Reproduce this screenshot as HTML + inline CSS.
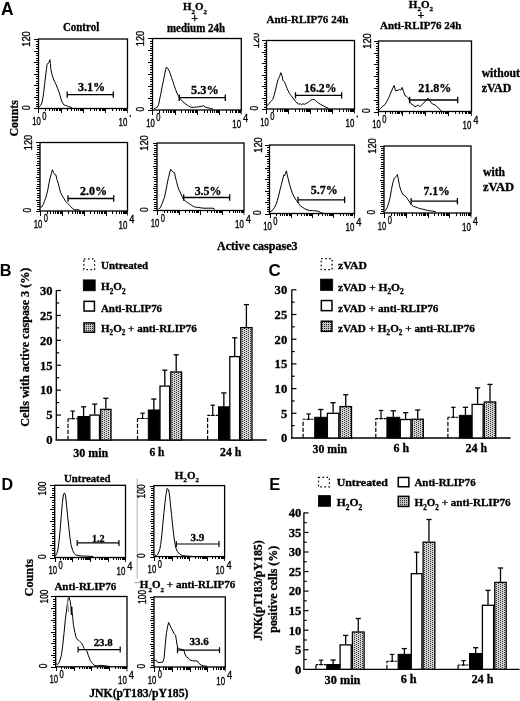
<!DOCTYPE html>
<html><head><meta charset="utf-8"><title>Figure</title>
<style>
html,body{margin:0;padding:0;background:#fff;width:520px;height:701px;overflow:hidden;}
svg{display:block;font-family:"Liberation Serif", serif;filter:grayscale(1);}
</style></head>
<body>
<svg width="520" height="701" viewBox="0 0 520 701">
<defs>
<pattern id="dots" x="0" y="0" width="4" height="2" patternUnits="userSpaceOnUse">
<rect x="0" y="0" width="4" height="2" fill="#d2d2d2"/>
<rect x="0" y="0" width="1" height="1" fill="#333"/>
<rect x="2" y="1" width="1" height="1" fill="#333"/>
</pattern>
<pattern id="dots2" x="0" y="0" width="2" height="2" patternUnits="userSpaceOnUse">
<rect x="0" y="0" width="2" height="2" fill="#c4c4c4"/>
<rect x="0" y="0" width="1" height="1" fill="#2a2a2a"/>
</pattern>
</defs>
<rect x="0" y="0" width="520" height="701" fill="#fff"/>
<text x="0.9" y="14.8" font-size="17.6" font-family='"Liberation Sans", sans-serif' font-weight="bold" textLength="12.6" lengthAdjust="spacingAndGlyphs" >A</text>
<rect x="38.5" y="39" width="89" height="69.5" fill="none" stroke="#000" stroke-width="1.3" />
<line x1="34.1" y1="108.5" x2="38.5" y2="108.5" stroke="#000" stroke-width="1" shape-rendering="crispEdges"/>
<line x1="35.9" y1="106.5" x2="38.5" y2="106.5" stroke="#000" stroke-width="1" shape-rendering="crispEdges"/>
<line x1="35.9" y1="104.5" x2="38.5" y2="104.5" stroke="#000" stroke-width="1" shape-rendering="crispEdges"/>
<line x1="35.9" y1="102.5" x2="38.5" y2="102.5" stroke="#000" stroke-width="1" shape-rendering="crispEdges"/>
<line x1="35.9" y1="99.5" x2="38.5" y2="99.5" stroke="#000" stroke-width="1" shape-rendering="crispEdges"/>
<line x1="34.1" y1="97.5" x2="38.5" y2="97.5" stroke="#000" stroke-width="1" shape-rendering="crispEdges"/>
<line x1="35.9" y1="95.5" x2="38.5" y2="95.5" stroke="#000" stroke-width="1" shape-rendering="crispEdges"/>
<line x1="35.9" y1="92.5" x2="38.5" y2="92.5" stroke="#000" stroke-width="1" shape-rendering="crispEdges"/>
<line x1="35.9" y1="90.5" x2="38.5" y2="90.5" stroke="#000" stroke-width="1" shape-rendering="crispEdges"/>
<line x1="35.9" y1="88.5" x2="38.5" y2="88.5" stroke="#000" stroke-width="1" shape-rendering="crispEdges"/>
<line x1="34.1" y1="85.5" x2="38.5" y2="85.5" stroke="#000" stroke-width="1" shape-rendering="crispEdges"/>
<line x1="35.9" y1="83.5" x2="38.5" y2="83.5" stroke="#000" stroke-width="1" shape-rendering="crispEdges"/>
<line x1="35.9" y1="81.5" x2="38.5" y2="81.5" stroke="#000" stroke-width="1" shape-rendering="crispEdges"/>
<line x1="35.9" y1="78.5" x2="38.5" y2="78.5" stroke="#000" stroke-width="1" shape-rendering="crispEdges"/>
<line x1="35.9" y1="76.5" x2="38.5" y2="76.5" stroke="#000" stroke-width="1" shape-rendering="crispEdges"/>
<line x1="34.1" y1="74.5" x2="38.5" y2="74.5" stroke="#000" stroke-width="1" shape-rendering="crispEdges"/>
<line x1="35.9" y1="71.5" x2="38.5" y2="71.5" stroke="#000" stroke-width="1" shape-rendering="crispEdges"/>
<line x1="35.9" y1="69.5" x2="38.5" y2="69.5" stroke="#000" stroke-width="1" shape-rendering="crispEdges"/>
<line x1="35.9" y1="67.5" x2="38.5" y2="67.5" stroke="#000" stroke-width="1" shape-rendering="crispEdges"/>
<line x1="35.9" y1="64.5" x2="38.5" y2="64.5" stroke="#000" stroke-width="1" shape-rendering="crispEdges"/>
<line x1="34.1" y1="62.5" x2="38.5" y2="62.5" stroke="#000" stroke-width="1" shape-rendering="crispEdges"/>
<line x1="35.9" y1="60.5" x2="38.5" y2="60.5" stroke="#000" stroke-width="1" shape-rendering="crispEdges"/>
<line x1="35.9" y1="58.5" x2="38.5" y2="58.5" stroke="#000" stroke-width="1" shape-rendering="crispEdges"/>
<line x1="35.9" y1="55.5" x2="38.5" y2="55.5" stroke="#000" stroke-width="1" shape-rendering="crispEdges"/>
<line x1="35.9" y1="53.5" x2="38.5" y2="53.5" stroke="#000" stroke-width="1" shape-rendering="crispEdges"/>
<line x1="34.1" y1="51.5" x2="38.5" y2="51.5" stroke="#000" stroke-width="1" shape-rendering="crispEdges"/>
<line x1="35.9" y1="48.5" x2="38.5" y2="48.5" stroke="#000" stroke-width="1" shape-rendering="crispEdges"/>
<line x1="35.9" y1="46.5" x2="38.5" y2="46.5" stroke="#000" stroke-width="1" shape-rendering="crispEdges"/>
<line x1="35.9" y1="44.5" x2="38.5" y2="44.5" stroke="#000" stroke-width="1" shape-rendering="crispEdges"/>
<line x1="35.9" y1="41.5" x2="38.5" y2="41.5" stroke="#000" stroke-width="1" shape-rendering="crispEdges"/>
<line x1="34.1" y1="39.5" x2="38.5" y2="39.5" stroke="#000" stroke-width="1" shape-rendering="crispEdges"/>
<line x1="38.5" y1="108.5" x2="38.5" y2="113.1" stroke="#000" stroke-width="1" shape-rendering="crispEdges"/>
<line x1="45.5" y1="108.5" x2="45.5" y2="111.1" stroke="#000" stroke-width="1" shape-rendering="crispEdges"/>
<line x1="49.5" y1="108.5" x2="49.5" y2="111.1" stroke="#000" stroke-width="1" shape-rendering="crispEdges"/>
<line x1="52.5" y1="108.5" x2="52.5" y2="111.1" stroke="#000" stroke-width="1" shape-rendering="crispEdges"/>
<line x1="54.5" y1="108.5" x2="54.5" y2="111.1" stroke="#000" stroke-width="1" shape-rendering="crispEdges"/>
<line x1="56.5" y1="108.5" x2="56.5" y2="111.1" stroke="#000" stroke-width="1" shape-rendering="crispEdges"/>
<line x1="57.5" y1="108.5" x2="57.5" y2="111.1" stroke="#000" stroke-width="1" shape-rendering="crispEdges"/>
<line x1="59.5" y1="108.5" x2="59.5" y2="111.1" stroke="#000" stroke-width="1" shape-rendering="crispEdges"/>
<line x1="60.5" y1="108.5" x2="60.5" y2="111.1" stroke="#000" stroke-width="1" shape-rendering="crispEdges"/>
<line x1="61.5" y1="108.5" x2="61.5" y2="113.1" stroke="#000" stroke-width="1" shape-rendering="crispEdges"/>
<line x1="67.5" y1="108.5" x2="67.5" y2="111.1" stroke="#000" stroke-width="1" shape-rendering="crispEdges"/>
<line x1="71.5" y1="108.5" x2="71.5" y2="111.1" stroke="#000" stroke-width="1" shape-rendering="crispEdges"/>
<line x1="74.5" y1="108.5" x2="74.5" y2="111.1" stroke="#000" stroke-width="1" shape-rendering="crispEdges"/>
<line x1="76.5" y1="108.5" x2="76.5" y2="111.1" stroke="#000" stroke-width="1" shape-rendering="crispEdges"/>
<line x1="78.5" y1="108.5" x2="78.5" y2="111.1" stroke="#000" stroke-width="1" shape-rendering="crispEdges"/>
<line x1="80.5" y1="108.5" x2="80.5" y2="111.1" stroke="#000" stroke-width="1" shape-rendering="crispEdges"/>
<line x1="81.5" y1="108.5" x2="81.5" y2="111.1" stroke="#000" stroke-width="1" shape-rendering="crispEdges"/>
<line x1="82.5" y1="108.5" x2="82.5" y2="111.1" stroke="#000" stroke-width="1" shape-rendering="crispEdges"/>
<line x1="83.5" y1="108.5" x2="83.5" y2="113.1" stroke="#000" stroke-width="1" shape-rendering="crispEdges"/>
<line x1="90.5" y1="108.5" x2="90.5" y2="111.1" stroke="#000" stroke-width="1" shape-rendering="crispEdges"/>
<line x1="94.5" y1="108.5" x2="94.5" y2="111.1" stroke="#000" stroke-width="1" shape-rendering="crispEdges"/>
<line x1="96.5" y1="108.5" x2="96.5" y2="111.1" stroke="#000" stroke-width="1" shape-rendering="crispEdges"/>
<line x1="99.5" y1="108.5" x2="99.5" y2="111.1" stroke="#000" stroke-width="1" shape-rendering="crispEdges"/>
<line x1="100.5" y1="108.5" x2="100.5" y2="111.1" stroke="#000" stroke-width="1" shape-rendering="crispEdges"/>
<line x1="102.5" y1="108.5" x2="102.5" y2="111.1" stroke="#000" stroke-width="1" shape-rendering="crispEdges"/>
<line x1="103.5" y1="108.5" x2="103.5" y2="111.1" stroke="#000" stroke-width="1" shape-rendering="crispEdges"/>
<line x1="104.5" y1="108.5" x2="104.5" y2="111.1" stroke="#000" stroke-width="1" shape-rendering="crispEdges"/>
<line x1="105.5" y1="108.5" x2="105.5" y2="113.1" stroke="#000" stroke-width="1" shape-rendering="crispEdges"/>
<line x1="112.5" y1="108.5" x2="112.5" y2="111.1" stroke="#000" stroke-width="1" shape-rendering="crispEdges"/>
<line x1="116.5" y1="108.5" x2="116.5" y2="111.1" stroke="#000" stroke-width="1" shape-rendering="crispEdges"/>
<line x1="119.5" y1="108.5" x2="119.5" y2="111.1" stroke="#000" stroke-width="1" shape-rendering="crispEdges"/>
<line x1="121.5" y1="108.5" x2="121.5" y2="111.1" stroke="#000" stroke-width="1" shape-rendering="crispEdges"/>
<line x1="123.5" y1="108.5" x2="123.5" y2="111.1" stroke="#000" stroke-width="1" shape-rendering="crispEdges"/>
<line x1="124.5" y1="108.5" x2="124.5" y2="111.1" stroke="#000" stroke-width="1" shape-rendering="crispEdges"/>
<line x1="125.5" y1="108.5" x2="125.5" y2="111.1" stroke="#000" stroke-width="1" shape-rendering="crispEdges"/>
<line x1="126.5" y1="108.5" x2="126.5" y2="111.1" stroke="#000" stroke-width="1" shape-rendering="crispEdges"/>
<line x1="127.5" y1="108.5" x2="127.5" y2="113.1" stroke="#000" stroke-width="0.8" />
<text x="30.3" y="39" font-size="10.5" font-family='"Liberation Sans", sans-serif' text-anchor="middle" textLength="15.5" lengthAdjust="spacingAndGlyphs" stroke="#000" stroke-width="0.35" transform="rotate(-90 30.3 39)" >120</text>
<text x="29.7" y="107.6" font-size="10.8" font-family='"Liberation Sans", sans-serif' text-anchor="middle" textLength="4.6" lengthAdjust="spacingAndGlyphs" stroke="#000" stroke-width="0.35" transform="rotate(-90 29.7 107.6)" >0</text>
<text x="32.2" y="125" font-size="10.8" font-family='"Liberation Sans", sans-serif' textLength="8.6" lengthAdjust="spacingAndGlyphs" stroke="#000" stroke-width="0.35" >10</text>
<text x="42.3" y="119.5" font-size="10.8" font-family='"Liberation Sans", sans-serif' textLength="4.2" lengthAdjust="spacingAndGlyphs" stroke="#000" stroke-width="0.35" >0</text>
<text x="118.5" y="126" font-size="10.8" font-family='"Liberation Sans", sans-serif' textLength="8.8" lengthAdjust="spacingAndGlyphs" stroke="#000" stroke-width="0.35" >10</text>
<line x1="130.5" y1="115" x2="129.9" y2="117.1" stroke="#000" stroke-width="1.1" />
<polyline points="39.4,106.8 40.8,105.4 41.8,103 42.7,99.1 43.7,92.4 44.7,83.7 45.6,76 46.6,68.3 47.1,64.5 48,63.1 49,62.6 49.9,59.7 50.4,63.5 50.9,69.3 51.9,74.1 52.8,77 53.8,79.9 55.2,82.8 56.2,84.7 57.6,88.5 59.1,92.4 60,95.3 61,99.1 62.4,102.5 63.9,104.9 65.3,105.4 66.8,105.8 68.7,106.8 70.6,107 72.5,108.3" fill="none" stroke="#000" stroke-width="1" stroke-linejoin="round"/>
<line x1="67.2" y1="94.6" x2="113.3" y2="94.6" stroke="#000" stroke-width="1.3" />
<line x1="67.2" y1="91.4" x2="67.2" y2="97.8" stroke="#000" stroke-width="1.3" />
<line x1="113.3" y1="91.4" x2="113.3" y2="97.8" stroke="#000" stroke-width="1.3" />
<text x="77.9" y="90.9" font-size="12.5" font-family='"Liberation Serif", serif' font-weight="bold" textLength="27.3" lengthAdjust="spacingAndGlyphs" stroke="#000" stroke-width="0.3" >3.1%</text>
<rect x="152.5" y="38.5" width="88.8" height="71.5" fill="none" stroke="#000" stroke-width="1.3" />
<line x1="148.1" y1="110.5" x2="152.5" y2="110.5" stroke="#000" stroke-width="1" shape-rendering="crispEdges"/>
<line x1="149.9" y1="108.5" x2="152.5" y2="108.5" stroke="#000" stroke-width="1" shape-rendering="crispEdges"/>
<line x1="149.9" y1="105.5" x2="152.5" y2="105.5" stroke="#000" stroke-width="1" shape-rendering="crispEdges"/>
<line x1="149.9" y1="103.5" x2="152.5" y2="103.5" stroke="#000" stroke-width="1" shape-rendering="crispEdges"/>
<line x1="149.9" y1="100.5" x2="152.5" y2="100.5" stroke="#000" stroke-width="1" shape-rendering="crispEdges"/>
<line x1="148.1" y1="98.5" x2="152.5" y2="98.5" stroke="#000" stroke-width="1" shape-rendering="crispEdges"/>
<line x1="149.9" y1="96.5" x2="152.5" y2="96.5" stroke="#000" stroke-width="1" shape-rendering="crispEdges"/>
<line x1="149.9" y1="93.5" x2="152.5" y2="93.5" stroke="#000" stroke-width="1" shape-rendering="crispEdges"/>
<line x1="149.9" y1="91.5" x2="152.5" y2="91.5" stroke="#000" stroke-width="1" shape-rendering="crispEdges"/>
<line x1="149.9" y1="89.5" x2="152.5" y2="89.5" stroke="#000" stroke-width="1" shape-rendering="crispEdges"/>
<line x1="148.1" y1="86.5" x2="152.5" y2="86.5" stroke="#000" stroke-width="1" shape-rendering="crispEdges"/>
<line x1="149.9" y1="84.5" x2="152.5" y2="84.5" stroke="#000" stroke-width="1" shape-rendering="crispEdges"/>
<line x1="149.9" y1="81.5" x2="152.5" y2="81.5" stroke="#000" stroke-width="1" shape-rendering="crispEdges"/>
<line x1="149.9" y1="79.5" x2="152.5" y2="79.5" stroke="#000" stroke-width="1" shape-rendering="crispEdges"/>
<line x1="149.9" y1="77.5" x2="152.5" y2="77.5" stroke="#000" stroke-width="1" shape-rendering="crispEdges"/>
<line x1="148.1" y1="74.5" x2="152.5" y2="74.5" stroke="#000" stroke-width="1" shape-rendering="crispEdges"/>
<line x1="149.9" y1="72.5" x2="152.5" y2="72.5" stroke="#000" stroke-width="1" shape-rendering="crispEdges"/>
<line x1="149.9" y1="69.5" x2="152.5" y2="69.5" stroke="#000" stroke-width="1" shape-rendering="crispEdges"/>
<line x1="149.9" y1="67.5" x2="152.5" y2="67.5" stroke="#000" stroke-width="1" shape-rendering="crispEdges"/>
<line x1="149.9" y1="65.5" x2="152.5" y2="65.5" stroke="#000" stroke-width="1" shape-rendering="crispEdges"/>
<line x1="148.1" y1="62.5" x2="152.5" y2="62.5" stroke="#000" stroke-width="1" shape-rendering="crispEdges"/>
<line x1="149.9" y1="60.5" x2="152.5" y2="60.5" stroke="#000" stroke-width="1" shape-rendering="crispEdges"/>
<line x1="149.9" y1="58.5" x2="152.5" y2="58.5" stroke="#000" stroke-width="1" shape-rendering="crispEdges"/>
<line x1="149.9" y1="55.5" x2="152.5" y2="55.5" stroke="#000" stroke-width="1" shape-rendering="crispEdges"/>
<line x1="149.9" y1="53.5" x2="152.5" y2="53.5" stroke="#000" stroke-width="1" shape-rendering="crispEdges"/>
<line x1="148.1" y1="50.5" x2="152.5" y2="50.5" stroke="#000" stroke-width="1" shape-rendering="crispEdges"/>
<line x1="149.9" y1="48.5" x2="152.5" y2="48.5" stroke="#000" stroke-width="1" shape-rendering="crispEdges"/>
<line x1="149.9" y1="46.5" x2="152.5" y2="46.5" stroke="#000" stroke-width="1" shape-rendering="crispEdges"/>
<line x1="149.9" y1="43.5" x2="152.5" y2="43.5" stroke="#000" stroke-width="1" shape-rendering="crispEdges"/>
<line x1="149.9" y1="41.5" x2="152.5" y2="41.5" stroke="#000" stroke-width="1" shape-rendering="crispEdges"/>
<line x1="148.1" y1="38.5" x2="152.5" y2="38.5" stroke="#000" stroke-width="1" shape-rendering="crispEdges"/>
<line x1="152.5" y1="110" x2="152.5" y2="114.6" stroke="#000" stroke-width="1" shape-rendering="crispEdges"/>
<line x1="159.5" y1="110" x2="159.5" y2="112.6" stroke="#000" stroke-width="1" shape-rendering="crispEdges"/>
<line x1="163.5" y1="110" x2="163.5" y2="112.6" stroke="#000" stroke-width="1" shape-rendering="crispEdges"/>
<line x1="166.5" y1="110" x2="166.5" y2="112.6" stroke="#000" stroke-width="1" shape-rendering="crispEdges"/>
<line x1="168.5" y1="110" x2="168.5" y2="112.6" stroke="#000" stroke-width="1" shape-rendering="crispEdges"/>
<line x1="170.5" y1="110" x2="170.5" y2="112.6" stroke="#000" stroke-width="1" shape-rendering="crispEdges"/>
<line x1="171.5" y1="110" x2="171.5" y2="112.6" stroke="#000" stroke-width="1" shape-rendering="crispEdges"/>
<line x1="173.5" y1="110" x2="173.5" y2="112.6" stroke="#000" stroke-width="1" shape-rendering="crispEdges"/>
<line x1="174.5" y1="110" x2="174.5" y2="112.6" stroke="#000" stroke-width="1" shape-rendering="crispEdges"/>
<line x1="175.5" y1="110" x2="175.5" y2="114.6" stroke="#000" stroke-width="1" shape-rendering="crispEdges"/>
<line x1="181.5" y1="110" x2="181.5" y2="112.6" stroke="#000" stroke-width="1" shape-rendering="crispEdges"/>
<line x1="185.5" y1="110" x2="185.5" y2="112.6" stroke="#000" stroke-width="1" shape-rendering="crispEdges"/>
<line x1="188.5" y1="110" x2="188.5" y2="112.6" stroke="#000" stroke-width="1" shape-rendering="crispEdges"/>
<line x1="190.5" y1="110" x2="190.5" y2="112.6" stroke="#000" stroke-width="1" shape-rendering="crispEdges"/>
<line x1="192.5" y1="110" x2="192.5" y2="112.6" stroke="#000" stroke-width="1" shape-rendering="crispEdges"/>
<line x1="193.5" y1="110" x2="193.5" y2="112.6" stroke="#000" stroke-width="1" shape-rendering="crispEdges"/>
<line x1="195.5" y1="110" x2="195.5" y2="112.6" stroke="#000" stroke-width="1" shape-rendering="crispEdges"/>
<line x1="196.5" y1="110" x2="196.5" y2="112.6" stroke="#000" stroke-width="1" shape-rendering="crispEdges"/>
<line x1="197.5" y1="110" x2="197.5" y2="114.6" stroke="#000" stroke-width="1" shape-rendering="crispEdges"/>
<line x1="204.5" y1="110" x2="204.5" y2="112.6" stroke="#000" stroke-width="1" shape-rendering="crispEdges"/>
<line x1="207.5" y1="110" x2="207.5" y2="112.6" stroke="#000" stroke-width="1" shape-rendering="crispEdges"/>
<line x1="210.5" y1="110" x2="210.5" y2="112.6" stroke="#000" stroke-width="1" shape-rendering="crispEdges"/>
<line x1="212.5" y1="110" x2="212.5" y2="112.6" stroke="#000" stroke-width="1" shape-rendering="crispEdges"/>
<line x1="214.5" y1="110" x2="214.5" y2="112.6" stroke="#000" stroke-width="1" shape-rendering="crispEdges"/>
<line x1="216.5" y1="110" x2="216.5" y2="112.6" stroke="#000" stroke-width="1" shape-rendering="crispEdges"/>
<line x1="217.5" y1="110" x2="217.5" y2="112.6" stroke="#000" stroke-width="1" shape-rendering="crispEdges"/>
<line x1="218.5" y1="110" x2="218.5" y2="112.6" stroke="#000" stroke-width="1" shape-rendering="crispEdges"/>
<line x1="219.5" y1="110" x2="219.5" y2="114.6" stroke="#000" stroke-width="1" shape-rendering="crispEdges"/>
<line x1="226.5" y1="110" x2="226.5" y2="112.6" stroke="#000" stroke-width="1" shape-rendering="crispEdges"/>
<line x1="230.5" y1="110" x2="230.5" y2="112.6" stroke="#000" stroke-width="1" shape-rendering="crispEdges"/>
<line x1="232.5" y1="110" x2="232.5" y2="112.6" stroke="#000" stroke-width="1" shape-rendering="crispEdges"/>
<line x1="235.5" y1="110" x2="235.5" y2="112.6" stroke="#000" stroke-width="1" shape-rendering="crispEdges"/>
<line x1="236.5" y1="110" x2="236.5" y2="112.6" stroke="#000" stroke-width="1" shape-rendering="crispEdges"/>
<line x1="238.5" y1="110" x2="238.5" y2="112.6" stroke="#000" stroke-width="1" shape-rendering="crispEdges"/>
<line x1="239.5" y1="110" x2="239.5" y2="112.6" stroke="#000" stroke-width="1" shape-rendering="crispEdges"/>
<line x1="240.5" y1="110" x2="240.5" y2="112.6" stroke="#000" stroke-width="1" shape-rendering="crispEdges"/>
<line x1="241.3" y1="110" x2="241.3" y2="114.6" stroke="#000" stroke-width="0.8" />
<text x="143.8" y="38.5" font-size="10.5" font-family='"Liberation Sans", sans-serif' text-anchor="middle" textLength="15.5" lengthAdjust="spacingAndGlyphs" stroke="#000" stroke-width="0.35" transform="rotate(-90 143.8 38.5)" >120</text>
<text x="143.7" y="109.1" font-size="10.8" font-family='"Liberation Sans", sans-serif' text-anchor="middle" textLength="4.6" lengthAdjust="spacingAndGlyphs" stroke="#000" stroke-width="0.35" transform="rotate(-90 143.7 109.1)" >0</text>
<text x="146.2" y="126.5" font-size="10.8" font-family='"Liberation Sans", sans-serif' textLength="8.6" lengthAdjust="spacingAndGlyphs" stroke="#000" stroke-width="0.35" >10</text>
<text x="156.3" y="121" font-size="10.8" font-family='"Liberation Sans", sans-serif' textLength="4.2" lengthAdjust="spacingAndGlyphs" stroke="#000" stroke-width="0.35" >0</text>
<text x="232.3" y="127.5" font-size="10.8" font-family='"Liberation Sans", sans-serif' textLength="8.8" lengthAdjust="spacingAndGlyphs" stroke="#000" stroke-width="0.35" >10</text>
<text x="243.1" y="122" font-size="10.8" font-family='"Liberation Sans", sans-serif' textLength="5.2" lengthAdjust="spacingAndGlyphs" stroke="#000" stroke-width="0.35" >4</text>
<polyline points="154,108.7 156.1,107.8 157.4,107.1 158.7,104.4 159.7,99 160.8,93.6 162.1,86.9 163.5,80.2 164.8,73.5 166.2,67.4 167.5,68.1 168.8,70.1 170.2,73.5 171.5,77.5 172.9,81.5 174.2,85.6 175.6,89.6 176.9,93 178.3,95.7 180.3,99 182.3,101 184.3,103.1 186.3,104.4 188.4,105.8 190.4,107.1 193.1,107.4 195.8,107.1 198.5,106.8 201.1,106.4 203.8,105.8 205.2,107.1 207.9,107.8 210.6,108.5 213.3,109.2" fill="none" stroke="#000" stroke-width="1" stroke-linejoin="round"/>
<line x1="179.2" y1="97.7" x2="225.3" y2="97.7" stroke="#000" stroke-width="1.3" />
<line x1="179.2" y1="94.5" x2="179.2" y2="100.9" stroke="#000" stroke-width="1.3" />
<line x1="225.3" y1="94.5" x2="225.3" y2="100.9" stroke="#000" stroke-width="1.3" />
<text x="191.1" y="93.8" font-size="12.5" font-family='"Liberation Serif", serif' font-weight="bold" textLength="27.7" lengthAdjust="spacingAndGlyphs" stroke="#000" stroke-width="0.3" >5.3%</text>
<rect x="266.5" y="40.5" width="88" height="68.5" fill="none" stroke="#000" stroke-width="1.3" />
<line x1="262.1" y1="109.5" x2="266.5" y2="109.5" stroke="#000" stroke-width="1" shape-rendering="crispEdges"/>
<line x1="263.9" y1="107.5" x2="266.5" y2="107.5" stroke="#000" stroke-width="1" shape-rendering="crispEdges"/>
<line x1="263.9" y1="104.5" x2="266.5" y2="104.5" stroke="#000" stroke-width="1" shape-rendering="crispEdges"/>
<line x1="263.9" y1="102.5" x2="266.5" y2="102.5" stroke="#000" stroke-width="1" shape-rendering="crispEdges"/>
<line x1="263.9" y1="100.5" x2="266.5" y2="100.5" stroke="#000" stroke-width="1" shape-rendering="crispEdges"/>
<line x1="262.1" y1="98.5" x2="266.5" y2="98.5" stroke="#000" stroke-width="1" shape-rendering="crispEdges"/>
<line x1="263.9" y1="95.5" x2="266.5" y2="95.5" stroke="#000" stroke-width="1" shape-rendering="crispEdges"/>
<line x1="263.9" y1="93.5" x2="266.5" y2="93.5" stroke="#000" stroke-width="1" shape-rendering="crispEdges"/>
<line x1="263.9" y1="91.5" x2="266.5" y2="91.5" stroke="#000" stroke-width="1" shape-rendering="crispEdges"/>
<line x1="263.9" y1="88.5" x2="266.5" y2="88.5" stroke="#000" stroke-width="1" shape-rendering="crispEdges"/>
<line x1="262.1" y1="86.5" x2="266.5" y2="86.5" stroke="#000" stroke-width="1" shape-rendering="crispEdges"/>
<line x1="263.9" y1="84.5" x2="266.5" y2="84.5" stroke="#000" stroke-width="1" shape-rendering="crispEdges"/>
<line x1="263.9" y1="82.5" x2="266.5" y2="82.5" stroke="#000" stroke-width="1" shape-rendering="crispEdges"/>
<line x1="263.9" y1="79.5" x2="266.5" y2="79.5" stroke="#000" stroke-width="1" shape-rendering="crispEdges"/>
<line x1="263.9" y1="77.5" x2="266.5" y2="77.5" stroke="#000" stroke-width="1" shape-rendering="crispEdges"/>
<line x1="262.1" y1="75.5" x2="266.5" y2="75.5" stroke="#000" stroke-width="1" shape-rendering="crispEdges"/>
<line x1="263.9" y1="72.5" x2="266.5" y2="72.5" stroke="#000" stroke-width="1" shape-rendering="crispEdges"/>
<line x1="263.9" y1="70.5" x2="266.5" y2="70.5" stroke="#000" stroke-width="1" shape-rendering="crispEdges"/>
<line x1="263.9" y1="68.5" x2="266.5" y2="68.5" stroke="#000" stroke-width="1" shape-rendering="crispEdges"/>
<line x1="263.9" y1="66.5" x2="266.5" y2="66.5" stroke="#000" stroke-width="1" shape-rendering="crispEdges"/>
<line x1="262.1" y1="63.5" x2="266.5" y2="63.5" stroke="#000" stroke-width="1" shape-rendering="crispEdges"/>
<line x1="263.9" y1="61.5" x2="266.5" y2="61.5" stroke="#000" stroke-width="1" shape-rendering="crispEdges"/>
<line x1="263.9" y1="59.5" x2="266.5" y2="59.5" stroke="#000" stroke-width="1" shape-rendering="crispEdges"/>
<line x1="263.9" y1="56.5" x2="266.5" y2="56.5" stroke="#000" stroke-width="1" shape-rendering="crispEdges"/>
<line x1="263.9" y1="54.5" x2="266.5" y2="54.5" stroke="#000" stroke-width="1" shape-rendering="crispEdges"/>
<line x1="262.1" y1="52.5" x2="266.5" y2="52.5" stroke="#000" stroke-width="1" shape-rendering="crispEdges"/>
<line x1="263.9" y1="50.5" x2="266.5" y2="50.5" stroke="#000" stroke-width="1" shape-rendering="crispEdges"/>
<line x1="263.9" y1="47.5" x2="266.5" y2="47.5" stroke="#000" stroke-width="1" shape-rendering="crispEdges"/>
<line x1="263.9" y1="45.5" x2="266.5" y2="45.5" stroke="#000" stroke-width="1" shape-rendering="crispEdges"/>
<line x1="263.9" y1="43.5" x2="266.5" y2="43.5" stroke="#000" stroke-width="1" shape-rendering="crispEdges"/>
<line x1="262.1" y1="40.5" x2="266.5" y2="40.5" stroke="#000" stroke-width="1" shape-rendering="crispEdges"/>
<line x1="266.5" y1="109" x2="266.5" y2="113.6" stroke="#000" stroke-width="1" shape-rendering="crispEdges"/>
<line x1="273.5" y1="109" x2="273.5" y2="111.6" stroke="#000" stroke-width="1" shape-rendering="crispEdges"/>
<line x1="277.5" y1="109" x2="277.5" y2="111.6" stroke="#000" stroke-width="1" shape-rendering="crispEdges"/>
<line x1="280.5" y1="109" x2="280.5" y2="111.6" stroke="#000" stroke-width="1" shape-rendering="crispEdges"/>
<line x1="282.5" y1="109" x2="282.5" y2="111.6" stroke="#000" stroke-width="1" shape-rendering="crispEdges"/>
<line x1="284.5" y1="109" x2="284.5" y2="111.6" stroke="#000" stroke-width="1" shape-rendering="crispEdges"/>
<line x1="285.5" y1="109" x2="285.5" y2="111.6" stroke="#000" stroke-width="1" shape-rendering="crispEdges"/>
<line x1="286.5" y1="109" x2="286.5" y2="111.6" stroke="#000" stroke-width="1" shape-rendering="crispEdges"/>
<line x1="287.5" y1="109" x2="287.5" y2="111.6" stroke="#000" stroke-width="1" shape-rendering="crispEdges"/>
<line x1="288.5" y1="109" x2="288.5" y2="113.6" stroke="#000" stroke-width="1" shape-rendering="crispEdges"/>
<line x1="295.5" y1="109" x2="295.5" y2="111.6" stroke="#000" stroke-width="1" shape-rendering="crispEdges"/>
<line x1="299.5" y1="109" x2="299.5" y2="111.6" stroke="#000" stroke-width="1" shape-rendering="crispEdges"/>
<line x1="302.5" y1="109" x2="302.5" y2="111.6" stroke="#000" stroke-width="1" shape-rendering="crispEdges"/>
<line x1="304.5" y1="109" x2="304.5" y2="111.6" stroke="#000" stroke-width="1" shape-rendering="crispEdges"/>
<line x1="306.5" y1="109" x2="306.5" y2="111.6" stroke="#000" stroke-width="1" shape-rendering="crispEdges"/>
<line x1="307.5" y1="109" x2="307.5" y2="111.6" stroke="#000" stroke-width="1" shape-rendering="crispEdges"/>
<line x1="308.5" y1="109" x2="308.5" y2="111.6" stroke="#000" stroke-width="1" shape-rendering="crispEdges"/>
<line x1="309.5" y1="109" x2="309.5" y2="111.6" stroke="#000" stroke-width="1" shape-rendering="crispEdges"/>
<line x1="310.5" y1="109" x2="310.5" y2="113.6" stroke="#000" stroke-width="1" shape-rendering="crispEdges"/>
<line x1="317.5" y1="109" x2="317.5" y2="111.6" stroke="#000" stroke-width="1" shape-rendering="crispEdges"/>
<line x1="321.5" y1="109" x2="321.5" y2="111.6" stroke="#000" stroke-width="1" shape-rendering="crispEdges"/>
<line x1="324.5" y1="109" x2="324.5" y2="111.6" stroke="#000" stroke-width="1" shape-rendering="crispEdges"/>
<line x1="326.5" y1="109" x2="326.5" y2="111.6" stroke="#000" stroke-width="1" shape-rendering="crispEdges"/>
<line x1="328.5" y1="109" x2="328.5" y2="111.6" stroke="#000" stroke-width="1" shape-rendering="crispEdges"/>
<line x1="329.5" y1="109" x2="329.5" y2="111.6" stroke="#000" stroke-width="1" shape-rendering="crispEdges"/>
<line x1="330.5" y1="109" x2="330.5" y2="111.6" stroke="#000" stroke-width="1" shape-rendering="crispEdges"/>
<line x1="331.5" y1="109" x2="331.5" y2="111.6" stroke="#000" stroke-width="1" shape-rendering="crispEdges"/>
<line x1="332.5" y1="109" x2="332.5" y2="113.6" stroke="#000" stroke-width="1" shape-rendering="crispEdges"/>
<line x1="339.5" y1="109" x2="339.5" y2="111.6" stroke="#000" stroke-width="1" shape-rendering="crispEdges"/>
<line x1="343.5" y1="109" x2="343.5" y2="111.6" stroke="#000" stroke-width="1" shape-rendering="crispEdges"/>
<line x1="346.5" y1="109" x2="346.5" y2="111.6" stroke="#000" stroke-width="1" shape-rendering="crispEdges"/>
<line x1="348.5" y1="109" x2="348.5" y2="111.6" stroke="#000" stroke-width="1" shape-rendering="crispEdges"/>
<line x1="350.5" y1="109" x2="350.5" y2="111.6" stroke="#000" stroke-width="1" shape-rendering="crispEdges"/>
<line x1="351.5" y1="109" x2="351.5" y2="111.6" stroke="#000" stroke-width="1" shape-rendering="crispEdges"/>
<line x1="352.5" y1="109" x2="352.5" y2="111.6" stroke="#000" stroke-width="1" shape-rendering="crispEdges"/>
<line x1="353.5" y1="109" x2="353.5" y2="111.6" stroke="#000" stroke-width="1" shape-rendering="crispEdges"/>
<line x1="354.5" y1="109" x2="354.5" y2="113.6" stroke="#000" stroke-width="0.8" />
<text x="259.3" y="40.5" font-size="10.5" font-family='"Liberation Sans", sans-serif' text-anchor="middle" textLength="15.5" lengthAdjust="spacingAndGlyphs" stroke="#000" stroke-width="0.35" transform="rotate(-90 259.3 40.5)" >120</text>
<text x="257.7" y="108.1" font-size="10.8" font-family='"Liberation Sans", sans-serif' text-anchor="middle" textLength="4.6" lengthAdjust="spacingAndGlyphs" stroke="#000" stroke-width="0.35" transform="rotate(-90 257.7 108.1)" >0</text>
<text x="260.2" y="125.5" font-size="10.8" font-family='"Liberation Sans", sans-serif' textLength="8.6" lengthAdjust="spacingAndGlyphs" stroke="#000" stroke-width="0.35" >10</text>
<text x="270.3" y="120" font-size="10.8" font-family='"Liberation Sans", sans-serif' textLength="4.2" lengthAdjust="spacingAndGlyphs" stroke="#000" stroke-width="0.35" >0</text>
<text x="345.5" y="126.5" font-size="10.8" font-family='"Liberation Sans", sans-serif' textLength="8.8" lengthAdjust="spacingAndGlyphs" stroke="#000" stroke-width="0.35" >10</text>
<line x1="357.5" y1="115.5" x2="356.9" y2="117.6" stroke="#000" stroke-width="1.1" />
<polyline points="266.7,105.7 268.7,104.3 270.7,101.6 272.7,99.6 274.1,95.6 275.4,90.2 276.8,84.2 278.1,79.4 279.5,76.7 280.8,72.7 282.2,76.1 282.8,80.1 284.2,81.5 285.5,84.2 286.9,88.2 288.2,90.9 289.6,93.6 290.9,95.6 292.3,96.9 293.6,99 295.2,101 297,103 299,104.3 300.3,103.7 301.7,104.6 303,103.7 304.4,104.3 306.4,103.3 308.4,102.3 310.4,100.3 312.5,99.6 314.5,99.6 316.5,101.6 318.5,103 320.5,104.3 323.2,105.7 325.9,107.3 328.6,108.3" fill="none" stroke="#000" stroke-width="1" stroke-linejoin="round"/>
<line x1="295.5" y1="95.4" x2="341.6" y2="95.4" stroke="#000" stroke-width="1.3" />
<line x1="295.5" y1="92.2" x2="295.5" y2="98.6" stroke="#000" stroke-width="1.3" />
<line x1="341.6" y1="92.2" x2="341.6" y2="98.6" stroke="#000" stroke-width="1.3" />
<text x="304.1" y="92" font-size="12.5" font-family='"Liberation Serif", serif' font-weight="bold" textLength="32.4" lengthAdjust="spacingAndGlyphs" stroke="#000" stroke-width="0.3" >16.2%</text>
<rect x="378.5" y="41" width="93" height="70.5" fill="none" stroke="#000" stroke-width="1.3" />
<line x1="374.1" y1="112.5" x2="378.5" y2="112.5" stroke="#000" stroke-width="1" shape-rendering="crispEdges"/>
<line x1="375.9" y1="109.5" x2="378.5" y2="109.5" stroke="#000" stroke-width="1" shape-rendering="crispEdges"/>
<line x1="375.9" y1="107.5" x2="378.5" y2="107.5" stroke="#000" stroke-width="1" shape-rendering="crispEdges"/>
<line x1="375.9" y1="104.5" x2="378.5" y2="104.5" stroke="#000" stroke-width="1" shape-rendering="crispEdges"/>
<line x1="375.9" y1="102.5" x2="378.5" y2="102.5" stroke="#000" stroke-width="1" shape-rendering="crispEdges"/>
<line x1="374.1" y1="100.5" x2="378.5" y2="100.5" stroke="#000" stroke-width="1" shape-rendering="crispEdges"/>
<line x1="375.9" y1="97.5" x2="378.5" y2="97.5" stroke="#000" stroke-width="1" shape-rendering="crispEdges"/>
<line x1="375.9" y1="95.5" x2="378.5" y2="95.5" stroke="#000" stroke-width="1" shape-rendering="crispEdges"/>
<line x1="375.9" y1="93.5" x2="378.5" y2="93.5" stroke="#000" stroke-width="1" shape-rendering="crispEdges"/>
<line x1="375.9" y1="90.5" x2="378.5" y2="90.5" stroke="#000" stroke-width="1" shape-rendering="crispEdges"/>
<line x1="374.1" y1="88.5" x2="378.5" y2="88.5" stroke="#000" stroke-width="1" shape-rendering="crispEdges"/>
<line x1="375.9" y1="86.5" x2="378.5" y2="86.5" stroke="#000" stroke-width="1" shape-rendering="crispEdges"/>
<line x1="375.9" y1="83.5" x2="378.5" y2="83.5" stroke="#000" stroke-width="1" shape-rendering="crispEdges"/>
<line x1="375.9" y1="81.5" x2="378.5" y2="81.5" stroke="#000" stroke-width="1" shape-rendering="crispEdges"/>
<line x1="375.9" y1="79.5" x2="378.5" y2="79.5" stroke="#000" stroke-width="1" shape-rendering="crispEdges"/>
<line x1="374.1" y1="76.5" x2="378.5" y2="76.5" stroke="#000" stroke-width="1" shape-rendering="crispEdges"/>
<line x1="375.9" y1="74.5" x2="378.5" y2="74.5" stroke="#000" stroke-width="1" shape-rendering="crispEdges"/>
<line x1="375.9" y1="72.5" x2="378.5" y2="72.5" stroke="#000" stroke-width="1" shape-rendering="crispEdges"/>
<line x1="375.9" y1="69.5" x2="378.5" y2="69.5" stroke="#000" stroke-width="1" shape-rendering="crispEdges"/>
<line x1="375.9" y1="67.5" x2="378.5" y2="67.5" stroke="#000" stroke-width="1" shape-rendering="crispEdges"/>
<line x1="374.1" y1="64.5" x2="378.5" y2="64.5" stroke="#000" stroke-width="1" shape-rendering="crispEdges"/>
<line x1="375.9" y1="62.5" x2="378.5" y2="62.5" stroke="#000" stroke-width="1" shape-rendering="crispEdges"/>
<line x1="375.9" y1="60.5" x2="378.5" y2="60.5" stroke="#000" stroke-width="1" shape-rendering="crispEdges"/>
<line x1="375.9" y1="57.5" x2="378.5" y2="57.5" stroke="#000" stroke-width="1" shape-rendering="crispEdges"/>
<line x1="375.9" y1="55.5" x2="378.5" y2="55.5" stroke="#000" stroke-width="1" shape-rendering="crispEdges"/>
<line x1="374.1" y1="53.5" x2="378.5" y2="53.5" stroke="#000" stroke-width="1" shape-rendering="crispEdges"/>
<line x1="375.9" y1="50.5" x2="378.5" y2="50.5" stroke="#000" stroke-width="1" shape-rendering="crispEdges"/>
<line x1="375.9" y1="48.5" x2="378.5" y2="48.5" stroke="#000" stroke-width="1" shape-rendering="crispEdges"/>
<line x1="375.9" y1="46.5" x2="378.5" y2="46.5" stroke="#000" stroke-width="1" shape-rendering="crispEdges"/>
<line x1="375.9" y1="43.5" x2="378.5" y2="43.5" stroke="#000" stroke-width="1" shape-rendering="crispEdges"/>
<line x1="374.1" y1="41.5" x2="378.5" y2="41.5" stroke="#000" stroke-width="1" shape-rendering="crispEdges"/>
<line x1="378.5" y1="111.5" x2="378.5" y2="116.1" stroke="#000" stroke-width="1" shape-rendering="crispEdges"/>
<line x1="385.5" y1="111.5" x2="385.5" y2="114.1" stroke="#000" stroke-width="1" shape-rendering="crispEdges"/>
<line x1="390.5" y1="111.5" x2="390.5" y2="114.1" stroke="#000" stroke-width="1" shape-rendering="crispEdges"/>
<line x1="392.5" y1="111.5" x2="392.5" y2="114.1" stroke="#000" stroke-width="1" shape-rendering="crispEdges"/>
<line x1="395.5" y1="111.5" x2="395.5" y2="114.1" stroke="#000" stroke-width="1" shape-rendering="crispEdges"/>
<line x1="397.5" y1="111.5" x2="397.5" y2="114.1" stroke="#000" stroke-width="1" shape-rendering="crispEdges"/>
<line x1="398.5" y1="111.5" x2="398.5" y2="114.1" stroke="#000" stroke-width="1" shape-rendering="crispEdges"/>
<line x1="399.5" y1="111.5" x2="399.5" y2="114.1" stroke="#000" stroke-width="1" shape-rendering="crispEdges"/>
<line x1="401.5" y1="111.5" x2="401.5" y2="114.1" stroke="#000" stroke-width="1" shape-rendering="crispEdges"/>
<line x1="402.5" y1="111.5" x2="402.5" y2="116.1" stroke="#000" stroke-width="1" shape-rendering="crispEdges"/>
<line x1="409.5" y1="111.5" x2="409.5" y2="114.1" stroke="#000" stroke-width="1" shape-rendering="crispEdges"/>
<line x1="413.5" y1="111.5" x2="413.5" y2="114.1" stroke="#000" stroke-width="1" shape-rendering="crispEdges"/>
<line x1="416.5" y1="111.5" x2="416.5" y2="114.1" stroke="#000" stroke-width="1" shape-rendering="crispEdges"/>
<line x1="418.5" y1="111.5" x2="418.5" y2="114.1" stroke="#000" stroke-width="1" shape-rendering="crispEdges"/>
<line x1="420.5" y1="111.5" x2="420.5" y2="114.1" stroke="#000" stroke-width="1" shape-rendering="crispEdges"/>
<line x1="421.5" y1="111.5" x2="421.5" y2="114.1" stroke="#000" stroke-width="1" shape-rendering="crispEdges"/>
<line x1="423.5" y1="111.5" x2="423.5" y2="114.1" stroke="#000" stroke-width="1" shape-rendering="crispEdges"/>
<line x1="424.5" y1="111.5" x2="424.5" y2="114.1" stroke="#000" stroke-width="1" shape-rendering="crispEdges"/>
<line x1="425.5" y1="111.5" x2="425.5" y2="116.1" stroke="#000" stroke-width="1" shape-rendering="crispEdges"/>
<line x1="432.5" y1="111.5" x2="432.5" y2="114.1" stroke="#000" stroke-width="1" shape-rendering="crispEdges"/>
<line x1="436.5" y1="111.5" x2="436.5" y2="114.1" stroke="#000" stroke-width="1" shape-rendering="crispEdges"/>
<line x1="439.5" y1="111.5" x2="439.5" y2="114.1" stroke="#000" stroke-width="1" shape-rendering="crispEdges"/>
<line x1="441.5" y1="111.5" x2="441.5" y2="114.1" stroke="#000" stroke-width="1" shape-rendering="crispEdges"/>
<line x1="443.5" y1="111.5" x2="443.5" y2="114.1" stroke="#000" stroke-width="1" shape-rendering="crispEdges"/>
<line x1="445.5" y1="111.5" x2="445.5" y2="114.1" stroke="#000" stroke-width="1" shape-rendering="crispEdges"/>
<line x1="446.5" y1="111.5" x2="446.5" y2="114.1" stroke="#000" stroke-width="1" shape-rendering="crispEdges"/>
<line x1="447.5" y1="111.5" x2="447.5" y2="114.1" stroke="#000" stroke-width="1" shape-rendering="crispEdges"/>
<line x1="448.5" y1="111.5" x2="448.5" y2="116.1" stroke="#000" stroke-width="1" shape-rendering="crispEdges"/>
<line x1="455.5" y1="111.5" x2="455.5" y2="114.1" stroke="#000" stroke-width="1" shape-rendering="crispEdges"/>
<line x1="459.5" y1="111.5" x2="459.5" y2="114.1" stroke="#000" stroke-width="1" shape-rendering="crispEdges"/>
<line x1="462.5" y1="111.5" x2="462.5" y2="114.1" stroke="#000" stroke-width="1" shape-rendering="crispEdges"/>
<line x1="465.5" y1="111.5" x2="465.5" y2="114.1" stroke="#000" stroke-width="1" shape-rendering="crispEdges"/>
<line x1="466.5" y1="111.5" x2="466.5" y2="114.1" stroke="#000" stroke-width="1" shape-rendering="crispEdges"/>
<line x1="468.5" y1="111.5" x2="468.5" y2="114.1" stroke="#000" stroke-width="1" shape-rendering="crispEdges"/>
<line x1="469.5" y1="111.5" x2="469.5" y2="114.1" stroke="#000" stroke-width="1" shape-rendering="crispEdges"/>
<line x1="470.5" y1="111.5" x2="470.5" y2="114.1" stroke="#000" stroke-width="1" shape-rendering="crispEdges"/>
<line x1="471.5" y1="111.5" x2="471.5" y2="116.1" stroke="#000" stroke-width="0.8" />
<text x="370.7" y="41" font-size="10.5" font-family='"Liberation Sans", sans-serif' text-anchor="middle" textLength="15.5" lengthAdjust="spacingAndGlyphs" stroke="#000" stroke-width="0.35" transform="rotate(-90 370.7 41)" >120</text>
<text x="369.7" y="110.6" font-size="10.8" font-family='"Liberation Sans", sans-serif' text-anchor="middle" textLength="4.6" lengthAdjust="spacingAndGlyphs" stroke="#000" stroke-width="0.35" transform="rotate(-90 369.7 110.6)" >0</text>
<text x="372.2" y="128" font-size="10.8" font-family='"Liberation Sans", sans-serif' textLength="8.6" lengthAdjust="spacingAndGlyphs" stroke="#000" stroke-width="0.35" >10</text>
<text x="382.3" y="122.5" font-size="10.8" font-family='"Liberation Sans", sans-serif' textLength="4.2" lengthAdjust="spacingAndGlyphs" stroke="#000" stroke-width="0.35" >0</text>
<text x="462.5" y="129" font-size="10.8" font-family='"Liberation Sans", sans-serif' textLength="8.8" lengthAdjust="spacingAndGlyphs" stroke="#000" stroke-width="0.35" >10</text>
<text x="473.3" y="123.5" font-size="10.8" font-family='"Liberation Sans", sans-serif' textLength="5.2" lengthAdjust="spacingAndGlyphs" stroke="#000" stroke-width="0.35" >4</text>
<polyline points="378.7,110.5 380.7,108.3 382.7,106.3 384.7,104.9 386.8,101.6 388.8,97.5 390.8,92.8 392.8,88.1 394.2,85.4 395.5,90.8 396.9,90.5 398.2,90.1 399.6,89.5 400.9,90.1 402.2,87.4 403.6,91.5 404.9,95.5 406.3,96.2 407.6,97.5 409,98.9 409.6,102.2 411,103.6 413,104.9 415,106.7 416.4,106.3 417.7,104.9 419.1,106.3 420.4,106.3 422.4,104.3 424.5,102.2 426.5,99.6 427.8,98.2 429.2,99.6 431.2,102.9 433.2,104.3 435.2,104.9 437.2,106.9 439.3,109 441.3,111" fill="none" stroke="#000" stroke-width="1" stroke-linejoin="round"/>
<line x1="409.7" y1="100" x2="457.7" y2="100" stroke="#000" stroke-width="1.3" />
<line x1="409.7" y1="96.8" x2="409.7" y2="103.2" stroke="#000" stroke-width="1.3" />
<line x1="457.7" y1="96.8" x2="457.7" y2="103.2" stroke="#000" stroke-width="1.3" />
<text x="418.3" y="92.1" font-size="12.5" font-family='"Liberation Serif", serif' font-weight="bold" textLength="33.1" lengthAdjust="spacingAndGlyphs" stroke="#000" stroke-width="0.3" >21.8%</text>
<rect x="40" y="142.5" width="87.5" height="68.5" fill="none" stroke="#000" stroke-width="1.3" />
<line x1="35.6" y1="211.5" x2="40" y2="211.5" stroke="#000" stroke-width="1" shape-rendering="crispEdges"/>
<line x1="37.4" y1="209.5" x2="40" y2="209.5" stroke="#000" stroke-width="1" shape-rendering="crispEdges"/>
<line x1="37.4" y1="206.5" x2="40" y2="206.5" stroke="#000" stroke-width="1" shape-rendering="crispEdges"/>
<line x1="37.4" y1="204.5" x2="40" y2="204.5" stroke="#000" stroke-width="1" shape-rendering="crispEdges"/>
<line x1="37.4" y1="202.5" x2="40" y2="202.5" stroke="#000" stroke-width="1" shape-rendering="crispEdges"/>
<line x1="35.6" y1="200.5" x2="40" y2="200.5" stroke="#000" stroke-width="1" shape-rendering="crispEdges"/>
<line x1="37.4" y1="197.5" x2="40" y2="197.5" stroke="#000" stroke-width="1" shape-rendering="crispEdges"/>
<line x1="37.4" y1="195.5" x2="40" y2="195.5" stroke="#000" stroke-width="1" shape-rendering="crispEdges"/>
<line x1="37.4" y1="193.5" x2="40" y2="193.5" stroke="#000" stroke-width="1" shape-rendering="crispEdges"/>
<line x1="37.4" y1="190.5" x2="40" y2="190.5" stroke="#000" stroke-width="1" shape-rendering="crispEdges"/>
<line x1="35.6" y1="188.5" x2="40" y2="188.5" stroke="#000" stroke-width="1" shape-rendering="crispEdges"/>
<line x1="37.4" y1="186.5" x2="40" y2="186.5" stroke="#000" stroke-width="1" shape-rendering="crispEdges"/>
<line x1="37.4" y1="184.5" x2="40" y2="184.5" stroke="#000" stroke-width="1" shape-rendering="crispEdges"/>
<line x1="37.4" y1="181.5" x2="40" y2="181.5" stroke="#000" stroke-width="1" shape-rendering="crispEdges"/>
<line x1="37.4" y1="179.5" x2="40" y2="179.5" stroke="#000" stroke-width="1" shape-rendering="crispEdges"/>
<line x1="35.6" y1="177.5" x2="40" y2="177.5" stroke="#000" stroke-width="1" shape-rendering="crispEdges"/>
<line x1="37.4" y1="174.5" x2="40" y2="174.5" stroke="#000" stroke-width="1" shape-rendering="crispEdges"/>
<line x1="37.4" y1="172.5" x2="40" y2="172.5" stroke="#000" stroke-width="1" shape-rendering="crispEdges"/>
<line x1="37.4" y1="170.5" x2="40" y2="170.5" stroke="#000" stroke-width="1" shape-rendering="crispEdges"/>
<line x1="37.4" y1="168.5" x2="40" y2="168.5" stroke="#000" stroke-width="1" shape-rendering="crispEdges"/>
<line x1="35.6" y1="165.5" x2="40" y2="165.5" stroke="#000" stroke-width="1" shape-rendering="crispEdges"/>
<line x1="37.4" y1="163.5" x2="40" y2="163.5" stroke="#000" stroke-width="1" shape-rendering="crispEdges"/>
<line x1="37.4" y1="161.5" x2="40" y2="161.5" stroke="#000" stroke-width="1" shape-rendering="crispEdges"/>
<line x1="37.4" y1="158.5" x2="40" y2="158.5" stroke="#000" stroke-width="1" shape-rendering="crispEdges"/>
<line x1="37.4" y1="156.5" x2="40" y2="156.5" stroke="#000" stroke-width="1" shape-rendering="crispEdges"/>
<line x1="35.6" y1="154.5" x2="40" y2="154.5" stroke="#000" stroke-width="1" shape-rendering="crispEdges"/>
<line x1="37.4" y1="152.5" x2="40" y2="152.5" stroke="#000" stroke-width="1" shape-rendering="crispEdges"/>
<line x1="37.4" y1="149.5" x2="40" y2="149.5" stroke="#000" stroke-width="1" shape-rendering="crispEdges"/>
<line x1="37.4" y1="147.5" x2="40" y2="147.5" stroke="#000" stroke-width="1" shape-rendering="crispEdges"/>
<line x1="37.4" y1="145.5" x2="40" y2="145.5" stroke="#000" stroke-width="1" shape-rendering="crispEdges"/>
<line x1="35.6" y1="142.5" x2="40" y2="142.5" stroke="#000" stroke-width="1" shape-rendering="crispEdges"/>
<line x1="40.5" y1="211" x2="40.5" y2="215.6" stroke="#000" stroke-width="1" shape-rendering="crispEdges"/>
<line x1="47.5" y1="211" x2="47.5" y2="213.6" stroke="#000" stroke-width="1" shape-rendering="crispEdges"/>
<line x1="50.5" y1="211" x2="50.5" y2="213.6" stroke="#000" stroke-width="1" shape-rendering="crispEdges"/>
<line x1="53.5" y1="211" x2="53.5" y2="213.6" stroke="#000" stroke-width="1" shape-rendering="crispEdges"/>
<line x1="55.5" y1="211" x2="55.5" y2="213.6" stroke="#000" stroke-width="1" shape-rendering="crispEdges"/>
<line x1="57.5" y1="211" x2="57.5" y2="213.6" stroke="#000" stroke-width="1" shape-rendering="crispEdges"/>
<line x1="58.5" y1="211" x2="58.5" y2="213.6" stroke="#000" stroke-width="1" shape-rendering="crispEdges"/>
<line x1="60.5" y1="211" x2="60.5" y2="213.6" stroke="#000" stroke-width="1" shape-rendering="crispEdges"/>
<line x1="61.5" y1="211" x2="61.5" y2="213.6" stroke="#000" stroke-width="1" shape-rendering="crispEdges"/>
<line x1="62.5" y1="211" x2="62.5" y2="215.6" stroke="#000" stroke-width="1" shape-rendering="crispEdges"/>
<line x1="68.5" y1="211" x2="68.5" y2="213.6" stroke="#000" stroke-width="1" shape-rendering="crispEdges"/>
<line x1="72.5" y1="211" x2="72.5" y2="213.6" stroke="#000" stroke-width="1" shape-rendering="crispEdges"/>
<line x1="75.5" y1="211" x2="75.5" y2="213.6" stroke="#000" stroke-width="1" shape-rendering="crispEdges"/>
<line x1="77.5" y1="211" x2="77.5" y2="213.6" stroke="#000" stroke-width="1" shape-rendering="crispEdges"/>
<line x1="79.5" y1="211" x2="79.5" y2="213.6" stroke="#000" stroke-width="1" shape-rendering="crispEdges"/>
<line x1="80.5" y1="211" x2="80.5" y2="213.6" stroke="#000" stroke-width="1" shape-rendering="crispEdges"/>
<line x1="82.5" y1="211" x2="82.5" y2="213.6" stroke="#000" stroke-width="1" shape-rendering="crispEdges"/>
<line x1="83.5" y1="211" x2="83.5" y2="213.6" stroke="#000" stroke-width="1" shape-rendering="crispEdges"/>
<line x1="84.5" y1="211" x2="84.5" y2="215.6" stroke="#000" stroke-width="1" shape-rendering="crispEdges"/>
<line x1="90.5" y1="211" x2="90.5" y2="213.6" stroke="#000" stroke-width="1" shape-rendering="crispEdges"/>
<line x1="94.5" y1="211" x2="94.5" y2="213.6" stroke="#000" stroke-width="1" shape-rendering="crispEdges"/>
<line x1="97.5" y1="211" x2="97.5" y2="213.6" stroke="#000" stroke-width="1" shape-rendering="crispEdges"/>
<line x1="99.5" y1="211" x2="99.5" y2="213.6" stroke="#000" stroke-width="1" shape-rendering="crispEdges"/>
<line x1="101.5" y1="211" x2="101.5" y2="213.6" stroke="#000" stroke-width="1" shape-rendering="crispEdges"/>
<line x1="102.5" y1="211" x2="102.5" y2="213.6" stroke="#000" stroke-width="1" shape-rendering="crispEdges"/>
<line x1="104.5" y1="211" x2="104.5" y2="213.6" stroke="#000" stroke-width="1" shape-rendering="crispEdges"/>
<line x1="105.5" y1="211" x2="105.5" y2="213.6" stroke="#000" stroke-width="1" shape-rendering="crispEdges"/>
<line x1="106.5" y1="211" x2="106.5" y2="215.6" stroke="#000" stroke-width="1" shape-rendering="crispEdges"/>
<line x1="112.5" y1="211" x2="112.5" y2="213.6" stroke="#000" stroke-width="1" shape-rendering="crispEdges"/>
<line x1="116.5" y1="211" x2="116.5" y2="213.6" stroke="#000" stroke-width="1" shape-rendering="crispEdges"/>
<line x1="119.5" y1="211" x2="119.5" y2="213.6" stroke="#000" stroke-width="1" shape-rendering="crispEdges"/>
<line x1="121.5" y1="211" x2="121.5" y2="213.6" stroke="#000" stroke-width="1" shape-rendering="crispEdges"/>
<line x1="123.5" y1="211" x2="123.5" y2="213.6" stroke="#000" stroke-width="1" shape-rendering="crispEdges"/>
<line x1="124.5" y1="211" x2="124.5" y2="213.6" stroke="#000" stroke-width="1" shape-rendering="crispEdges"/>
<line x1="125.5" y1="211" x2="125.5" y2="213.6" stroke="#000" stroke-width="1" shape-rendering="crispEdges"/>
<line x1="126.5" y1="211" x2="126.5" y2="213.6" stroke="#000" stroke-width="1" shape-rendering="crispEdges"/>
<line x1="127.5" y1="211" x2="127.5" y2="215.6" stroke="#000" stroke-width="0.8" />
<text x="32" y="142.5" font-size="10.5" font-family='"Liberation Sans", sans-serif' text-anchor="middle" textLength="15.5" lengthAdjust="spacingAndGlyphs" stroke="#000" stroke-width="0.35" transform="rotate(-90 32 142.5)" >120</text>
<text x="31.2" y="210.1" font-size="10.8" font-family='"Liberation Sans", sans-serif' text-anchor="middle" textLength="4.6" lengthAdjust="spacingAndGlyphs" stroke="#000" stroke-width="0.35" transform="rotate(-90 31.2 210.1)" >0</text>
<text x="33.7" y="227.5" font-size="10.8" font-family='"Liberation Sans", sans-serif' textLength="8.6" lengthAdjust="spacingAndGlyphs" stroke="#000" stroke-width="0.35" >10</text>
<text x="43.8" y="222" font-size="10.8" font-family='"Liberation Sans", sans-serif' textLength="4.2" lengthAdjust="spacingAndGlyphs" stroke="#000" stroke-width="0.35" >0</text>
<text x="118.5" y="228.5" font-size="10.8" font-family='"Liberation Sans", sans-serif' textLength="8.8" lengthAdjust="spacingAndGlyphs" stroke="#000" stroke-width="0.35" >10</text>
<text x="129.3" y="223" font-size="10.8" font-family='"Liberation Sans", sans-serif' textLength="5.2" lengthAdjust="spacingAndGlyphs" stroke="#000" stroke-width="0.35" >4</text>
<polyline points="40.3,207.3 42,206.7 43.2,204.4 44.3,201.5 45.5,198.7 46.7,194.6 47.8,190 49,183.1 50.1,177.9 51.3,173.8 52.4,169.8 53.6,172.7 54.7,174.4 55.9,175 57,179.6 58.2,183.1 59.3,187.7 60.5,192.3 62.2,195.8 64,198.7 65.7,201.5 67.4,203.3 69.2,205 70.9,206.7 72.6,208.5 74.3,209.6 77.2,209.8 79.5,209.8" fill="none" stroke="#000" stroke-width="1" stroke-linejoin="round"/>
<line x1="68" y1="198.5" x2="113.7" y2="198.5" stroke="#000" stroke-width="1.3" />
<line x1="68" y1="195.3" x2="68" y2="201.7" stroke="#000" stroke-width="1.3" />
<line x1="113.7" y1="195.3" x2="113.7" y2="201.7" stroke="#000" stroke-width="1.3" />
<text x="79.9" y="195.1" font-size="12.5" font-family='"Liberation Serif", serif' font-weight="bold" textLength="27.3" lengthAdjust="spacingAndGlyphs" stroke="#000" stroke-width="0.3" >2.0%</text>
<rect x="157" y="143" width="87" height="67.5" fill="none" stroke="#000" stroke-width="1.3" />
<line x1="152.6" y1="210.5" x2="157" y2="210.5" stroke="#000" stroke-width="1" shape-rendering="crispEdges"/>
<line x1="154.4" y1="208.5" x2="157" y2="208.5" stroke="#000" stroke-width="1" shape-rendering="crispEdges"/>
<line x1="154.4" y1="206.5" x2="157" y2="206.5" stroke="#000" stroke-width="1" shape-rendering="crispEdges"/>
<line x1="154.4" y1="204.5" x2="157" y2="204.5" stroke="#000" stroke-width="1" shape-rendering="crispEdges"/>
<line x1="154.4" y1="202.5" x2="157" y2="202.5" stroke="#000" stroke-width="1" shape-rendering="crispEdges"/>
<line x1="152.6" y1="199.5" x2="157" y2="199.5" stroke="#000" stroke-width="1" shape-rendering="crispEdges"/>
<line x1="154.4" y1="197.5" x2="157" y2="197.5" stroke="#000" stroke-width="1" shape-rendering="crispEdges"/>
<line x1="154.4" y1="195.5" x2="157" y2="195.5" stroke="#000" stroke-width="1" shape-rendering="crispEdges"/>
<line x1="154.4" y1="192.5" x2="157" y2="192.5" stroke="#000" stroke-width="1" shape-rendering="crispEdges"/>
<line x1="154.4" y1="190.5" x2="157" y2="190.5" stroke="#000" stroke-width="1" shape-rendering="crispEdges"/>
<line x1="152.6" y1="188.5" x2="157" y2="188.5" stroke="#000" stroke-width="1" shape-rendering="crispEdges"/>
<line x1="154.4" y1="186.5" x2="157" y2="186.5" stroke="#000" stroke-width="1" shape-rendering="crispEdges"/>
<line x1="154.4" y1="184.5" x2="157" y2="184.5" stroke="#000" stroke-width="1" shape-rendering="crispEdges"/>
<line x1="154.4" y1="181.5" x2="157" y2="181.5" stroke="#000" stroke-width="1" shape-rendering="crispEdges"/>
<line x1="154.4" y1="179.5" x2="157" y2="179.5" stroke="#000" stroke-width="1" shape-rendering="crispEdges"/>
<line x1="152.6" y1="177.5" x2="157" y2="177.5" stroke="#000" stroke-width="1" shape-rendering="crispEdges"/>
<line x1="154.4" y1="174.5" x2="157" y2="174.5" stroke="#000" stroke-width="1" shape-rendering="crispEdges"/>
<line x1="154.4" y1="172.5" x2="157" y2="172.5" stroke="#000" stroke-width="1" shape-rendering="crispEdges"/>
<line x1="154.4" y1="170.5" x2="157" y2="170.5" stroke="#000" stroke-width="1" shape-rendering="crispEdges"/>
<line x1="154.4" y1="168.5" x2="157" y2="168.5" stroke="#000" stroke-width="1" shape-rendering="crispEdges"/>
<line x1="152.6" y1="166.5" x2="157" y2="166.5" stroke="#000" stroke-width="1" shape-rendering="crispEdges"/>
<line x1="154.4" y1="163.5" x2="157" y2="163.5" stroke="#000" stroke-width="1" shape-rendering="crispEdges"/>
<line x1="154.4" y1="161.5" x2="157" y2="161.5" stroke="#000" stroke-width="1" shape-rendering="crispEdges"/>
<line x1="154.4" y1="159.5" x2="157" y2="159.5" stroke="#000" stroke-width="1" shape-rendering="crispEdges"/>
<line x1="154.4" y1="156.5" x2="157" y2="156.5" stroke="#000" stroke-width="1" shape-rendering="crispEdges"/>
<line x1="152.6" y1="154.5" x2="157" y2="154.5" stroke="#000" stroke-width="1" shape-rendering="crispEdges"/>
<line x1="154.4" y1="152.5" x2="157" y2="152.5" stroke="#000" stroke-width="1" shape-rendering="crispEdges"/>
<line x1="154.4" y1="150.5" x2="157" y2="150.5" stroke="#000" stroke-width="1" shape-rendering="crispEdges"/>
<line x1="154.4" y1="148.5" x2="157" y2="148.5" stroke="#000" stroke-width="1" shape-rendering="crispEdges"/>
<line x1="154.4" y1="145.5" x2="157" y2="145.5" stroke="#000" stroke-width="1" shape-rendering="crispEdges"/>
<line x1="152.6" y1="143.5" x2="157" y2="143.5" stroke="#000" stroke-width="1" shape-rendering="crispEdges"/>
<line x1="157.5" y1="210.5" x2="157.5" y2="215.1" stroke="#000" stroke-width="1" shape-rendering="crispEdges"/>
<line x1="164.5" y1="210.5" x2="164.5" y2="213.1" stroke="#000" stroke-width="1" shape-rendering="crispEdges"/>
<line x1="167.5" y1="210.5" x2="167.5" y2="213.1" stroke="#000" stroke-width="1" shape-rendering="crispEdges"/>
<line x1="170.5" y1="210.5" x2="170.5" y2="213.1" stroke="#000" stroke-width="1" shape-rendering="crispEdges"/>
<line x1="172.5" y1="210.5" x2="172.5" y2="213.1" stroke="#000" stroke-width="1" shape-rendering="crispEdges"/>
<line x1="174.5" y1="210.5" x2="174.5" y2="213.1" stroke="#000" stroke-width="1" shape-rendering="crispEdges"/>
<line x1="175.5" y1="210.5" x2="175.5" y2="213.1" stroke="#000" stroke-width="1" shape-rendering="crispEdges"/>
<line x1="177.5" y1="210.5" x2="177.5" y2="213.1" stroke="#000" stroke-width="1" shape-rendering="crispEdges"/>
<line x1="178.5" y1="210.5" x2="178.5" y2="213.1" stroke="#000" stroke-width="1" shape-rendering="crispEdges"/>
<line x1="179.5" y1="210.5" x2="179.5" y2="215.1" stroke="#000" stroke-width="1" shape-rendering="crispEdges"/>
<line x1="185.5" y1="210.5" x2="185.5" y2="213.1" stroke="#000" stroke-width="1" shape-rendering="crispEdges"/>
<line x1="189.5" y1="210.5" x2="189.5" y2="213.1" stroke="#000" stroke-width="1" shape-rendering="crispEdges"/>
<line x1="192.5" y1="210.5" x2="192.5" y2="213.1" stroke="#000" stroke-width="1" shape-rendering="crispEdges"/>
<line x1="194.5" y1="210.5" x2="194.5" y2="213.1" stroke="#000" stroke-width="1" shape-rendering="crispEdges"/>
<line x1="196.5" y1="210.5" x2="196.5" y2="213.1" stroke="#000" stroke-width="1" shape-rendering="crispEdges"/>
<line x1="197.5" y1="210.5" x2="197.5" y2="213.1" stroke="#000" stroke-width="1" shape-rendering="crispEdges"/>
<line x1="198.5" y1="210.5" x2="198.5" y2="213.1" stroke="#000" stroke-width="1" shape-rendering="crispEdges"/>
<line x1="200.5" y1="210.5" x2="200.5" y2="213.1" stroke="#000" stroke-width="1" shape-rendering="crispEdges"/>
<line x1="200.5" y1="210.5" x2="200.5" y2="215.1" stroke="#000" stroke-width="1" shape-rendering="crispEdges"/>
<line x1="207.5" y1="210.5" x2="207.5" y2="213.1" stroke="#000" stroke-width="1" shape-rendering="crispEdges"/>
<line x1="211.5" y1="210.5" x2="211.5" y2="213.1" stroke="#000" stroke-width="1" shape-rendering="crispEdges"/>
<line x1="214.5" y1="210.5" x2="214.5" y2="213.1" stroke="#000" stroke-width="1" shape-rendering="crispEdges"/>
<line x1="216.5" y1="210.5" x2="216.5" y2="213.1" stroke="#000" stroke-width="1" shape-rendering="crispEdges"/>
<line x1="217.5" y1="210.5" x2="217.5" y2="213.1" stroke="#000" stroke-width="1" shape-rendering="crispEdges"/>
<line x1="219.5" y1="210.5" x2="219.5" y2="213.1" stroke="#000" stroke-width="1" shape-rendering="crispEdges"/>
<line x1="220.5" y1="210.5" x2="220.5" y2="213.1" stroke="#000" stroke-width="1" shape-rendering="crispEdges"/>
<line x1="221.5" y1="210.5" x2="221.5" y2="213.1" stroke="#000" stroke-width="1" shape-rendering="crispEdges"/>
<line x1="222.5" y1="210.5" x2="222.5" y2="215.1" stroke="#000" stroke-width="1" shape-rendering="crispEdges"/>
<line x1="229.5" y1="210.5" x2="229.5" y2="213.1" stroke="#000" stroke-width="1" shape-rendering="crispEdges"/>
<line x1="233.5" y1="210.5" x2="233.5" y2="213.1" stroke="#000" stroke-width="1" shape-rendering="crispEdges"/>
<line x1="235.5" y1="210.5" x2="235.5" y2="213.1" stroke="#000" stroke-width="1" shape-rendering="crispEdges"/>
<line x1="237.5" y1="210.5" x2="237.5" y2="213.1" stroke="#000" stroke-width="1" shape-rendering="crispEdges"/>
<line x1="239.5" y1="210.5" x2="239.5" y2="213.1" stroke="#000" stroke-width="1" shape-rendering="crispEdges"/>
<line x1="241.5" y1="210.5" x2="241.5" y2="213.1" stroke="#000" stroke-width="1" shape-rendering="crispEdges"/>
<line x1="242.5" y1="210.5" x2="242.5" y2="213.1" stroke="#000" stroke-width="1" shape-rendering="crispEdges"/>
<line x1="243.5" y1="210.5" x2="243.5" y2="213.1" stroke="#000" stroke-width="1" shape-rendering="crispEdges"/>
<line x1="244" y1="210.5" x2="244" y2="215.1" stroke="#000" stroke-width="0.8" />
<text x="148" y="143" font-size="10.5" font-family='"Liberation Sans", sans-serif' text-anchor="middle" textLength="15.5" lengthAdjust="spacingAndGlyphs" stroke="#000" stroke-width="0.35" transform="rotate(-90 148 143)" >120</text>
<text x="148.2" y="209.6" font-size="10.8" font-family='"Liberation Sans", sans-serif' text-anchor="middle" textLength="4.6" lengthAdjust="spacingAndGlyphs" stroke="#000" stroke-width="0.35" transform="rotate(-90 148.2 209.6)" >0</text>
<text x="150.7" y="227" font-size="10.8" font-family='"Liberation Sans", sans-serif' textLength="8.6" lengthAdjust="spacingAndGlyphs" stroke="#000" stroke-width="0.35" >10</text>
<text x="160.8" y="221.5" font-size="10.8" font-family='"Liberation Sans", sans-serif' textLength="4.2" lengthAdjust="spacingAndGlyphs" stroke="#000" stroke-width="0.35" >0</text>
<text x="235" y="228" font-size="10.8" font-family='"Liberation Sans", sans-serif' textLength="8.8" lengthAdjust="spacingAndGlyphs" stroke="#000" stroke-width="0.35" >10</text>
<text x="245.8" y="222.5" font-size="10.8" font-family='"Liberation Sans", sans-serif' textLength="5.2" lengthAdjust="spacingAndGlyphs" stroke="#000" stroke-width="0.35" >4</text>
<polyline points="158.4,209.1 160.4,207.8 161.7,204.4 163.1,201 164.4,197.7 165.8,191 167.1,184.2 168.5,177.5 169.8,172.1 170.7,169.2 171.8,170.8 173.2,172.1 174.5,172.8 175.2,176.2 176.5,181.5 177.9,186.9 179.2,190.3 180.6,193 181.9,196.3 183.3,199 185.3,201 187.3,202.4 189.3,203.7 191.3,205.1 193.4,206.4 195.4,207.1 198.1,207.4 200.8,207.8 203.5,208.2 208.8,208.2 212.9,208.2 214.9,209.3" fill="none" stroke="#000" stroke-width="1" stroke-linejoin="round"/>
<line x1="183.7" y1="197.5" x2="229.7" y2="197.5" stroke="#000" stroke-width="1.3" />
<line x1="183.7" y1="194.3" x2="183.7" y2="200.7" stroke="#000" stroke-width="1.3" />
<line x1="229.7" y1="194.3" x2="229.7" y2="200.7" stroke="#000" stroke-width="1.3" />
<text x="194.7" y="194.6" font-size="12.5" font-family='"Liberation Serif", serif' font-weight="bold" textLength="26.7" lengthAdjust="spacingAndGlyphs" stroke="#000" stroke-width="0.3" >3.5%</text>
<rect x="269.5" y="145" width="85" height="68.5" fill="none" stroke="#000" stroke-width="1.3" />
<line x1="265.1" y1="214.5" x2="269.5" y2="214.5" stroke="#000" stroke-width="1" shape-rendering="crispEdges"/>
<line x1="266.9" y1="211.5" x2="269.5" y2="211.5" stroke="#000" stroke-width="1" shape-rendering="crispEdges"/>
<line x1="266.9" y1="209.5" x2="269.5" y2="209.5" stroke="#000" stroke-width="1" shape-rendering="crispEdges"/>
<line x1="266.9" y1="207.5" x2="269.5" y2="207.5" stroke="#000" stroke-width="1" shape-rendering="crispEdges"/>
<line x1="266.9" y1="204.5" x2="269.5" y2="204.5" stroke="#000" stroke-width="1" shape-rendering="crispEdges"/>
<line x1="265.1" y1="202.5" x2="269.5" y2="202.5" stroke="#000" stroke-width="1" shape-rendering="crispEdges"/>
<line x1="266.9" y1="200.5" x2="269.5" y2="200.5" stroke="#000" stroke-width="1" shape-rendering="crispEdges"/>
<line x1="266.9" y1="198.5" x2="269.5" y2="198.5" stroke="#000" stroke-width="1" shape-rendering="crispEdges"/>
<line x1="266.9" y1="195.5" x2="269.5" y2="195.5" stroke="#000" stroke-width="1" shape-rendering="crispEdges"/>
<line x1="266.9" y1="193.5" x2="269.5" y2="193.5" stroke="#000" stroke-width="1" shape-rendering="crispEdges"/>
<line x1="265.1" y1="191.5" x2="269.5" y2="191.5" stroke="#000" stroke-width="1" shape-rendering="crispEdges"/>
<line x1="266.9" y1="188.5" x2="269.5" y2="188.5" stroke="#000" stroke-width="1" shape-rendering="crispEdges"/>
<line x1="266.9" y1="186.5" x2="269.5" y2="186.5" stroke="#000" stroke-width="1" shape-rendering="crispEdges"/>
<line x1="266.9" y1="184.5" x2="269.5" y2="184.5" stroke="#000" stroke-width="1" shape-rendering="crispEdges"/>
<line x1="266.9" y1="182.5" x2="269.5" y2="182.5" stroke="#000" stroke-width="1" shape-rendering="crispEdges"/>
<line x1="265.1" y1="179.5" x2="269.5" y2="179.5" stroke="#000" stroke-width="1" shape-rendering="crispEdges"/>
<line x1="266.9" y1="177.5" x2="269.5" y2="177.5" stroke="#000" stroke-width="1" shape-rendering="crispEdges"/>
<line x1="266.9" y1="175.5" x2="269.5" y2="175.5" stroke="#000" stroke-width="1" shape-rendering="crispEdges"/>
<line x1="266.9" y1="172.5" x2="269.5" y2="172.5" stroke="#000" stroke-width="1" shape-rendering="crispEdges"/>
<line x1="266.9" y1="170.5" x2="269.5" y2="170.5" stroke="#000" stroke-width="1" shape-rendering="crispEdges"/>
<line x1="265.1" y1="168.5" x2="269.5" y2="168.5" stroke="#000" stroke-width="1" shape-rendering="crispEdges"/>
<line x1="266.9" y1="166.5" x2="269.5" y2="166.5" stroke="#000" stroke-width="1" shape-rendering="crispEdges"/>
<line x1="266.9" y1="163.5" x2="269.5" y2="163.5" stroke="#000" stroke-width="1" shape-rendering="crispEdges"/>
<line x1="266.9" y1="161.5" x2="269.5" y2="161.5" stroke="#000" stroke-width="1" shape-rendering="crispEdges"/>
<line x1="266.9" y1="159.5" x2="269.5" y2="159.5" stroke="#000" stroke-width="1" shape-rendering="crispEdges"/>
<line x1="265.1" y1="156.5" x2="269.5" y2="156.5" stroke="#000" stroke-width="1" shape-rendering="crispEdges"/>
<line x1="266.9" y1="154.5" x2="269.5" y2="154.5" stroke="#000" stroke-width="1" shape-rendering="crispEdges"/>
<line x1="266.9" y1="152.5" x2="269.5" y2="152.5" stroke="#000" stroke-width="1" shape-rendering="crispEdges"/>
<line x1="266.9" y1="150.5" x2="269.5" y2="150.5" stroke="#000" stroke-width="1" shape-rendering="crispEdges"/>
<line x1="266.9" y1="147.5" x2="269.5" y2="147.5" stroke="#000" stroke-width="1" shape-rendering="crispEdges"/>
<line x1="265.1" y1="145.5" x2="269.5" y2="145.5" stroke="#000" stroke-width="1" shape-rendering="crispEdges"/>
<line x1="270.5" y1="213.5" x2="270.5" y2="218.1" stroke="#000" stroke-width="1" shape-rendering="crispEdges"/>
<line x1="276.5" y1="213.5" x2="276.5" y2="216.1" stroke="#000" stroke-width="1" shape-rendering="crispEdges"/>
<line x1="280.5" y1="213.5" x2="280.5" y2="216.1" stroke="#000" stroke-width="1" shape-rendering="crispEdges"/>
<line x1="282.5" y1="213.5" x2="282.5" y2="216.1" stroke="#000" stroke-width="1" shape-rendering="crispEdges"/>
<line x1="284.5" y1="213.5" x2="284.5" y2="216.1" stroke="#000" stroke-width="1" shape-rendering="crispEdges"/>
<line x1="286.5" y1="213.5" x2="286.5" y2="216.1" stroke="#000" stroke-width="1" shape-rendering="crispEdges"/>
<line x1="287.5" y1="213.5" x2="287.5" y2="216.1" stroke="#000" stroke-width="1" shape-rendering="crispEdges"/>
<line x1="289.5" y1="213.5" x2="289.5" y2="216.1" stroke="#000" stroke-width="1" shape-rendering="crispEdges"/>
<line x1="290.5" y1="213.5" x2="290.5" y2="216.1" stroke="#000" stroke-width="1" shape-rendering="crispEdges"/>
<line x1="291.5" y1="213.5" x2="291.5" y2="218.1" stroke="#000" stroke-width="1" shape-rendering="crispEdges"/>
<line x1="297.5" y1="213.5" x2="297.5" y2="216.1" stroke="#000" stroke-width="1" shape-rendering="crispEdges"/>
<line x1="301.5" y1="213.5" x2="301.5" y2="216.1" stroke="#000" stroke-width="1" shape-rendering="crispEdges"/>
<line x1="304.5" y1="213.5" x2="304.5" y2="216.1" stroke="#000" stroke-width="1" shape-rendering="crispEdges"/>
<line x1="306.5" y1="213.5" x2="306.5" y2="216.1" stroke="#000" stroke-width="1" shape-rendering="crispEdges"/>
<line x1="307.5" y1="213.5" x2="307.5" y2="216.1" stroke="#000" stroke-width="1" shape-rendering="crispEdges"/>
<line x1="309.5" y1="213.5" x2="309.5" y2="216.1" stroke="#000" stroke-width="1" shape-rendering="crispEdges"/>
<line x1="310.5" y1="213.5" x2="310.5" y2="216.1" stroke="#000" stroke-width="1" shape-rendering="crispEdges"/>
<line x1="311.5" y1="213.5" x2="311.5" y2="216.1" stroke="#000" stroke-width="1" shape-rendering="crispEdges"/>
<line x1="312.5" y1="213.5" x2="312.5" y2="218.1" stroke="#000" stroke-width="1" shape-rendering="crispEdges"/>
<line x1="318.5" y1="213.5" x2="318.5" y2="216.1" stroke="#000" stroke-width="1" shape-rendering="crispEdges"/>
<line x1="322.5" y1="213.5" x2="322.5" y2="216.1" stroke="#000" stroke-width="1" shape-rendering="crispEdges"/>
<line x1="325.5" y1="213.5" x2="325.5" y2="216.1" stroke="#000" stroke-width="1" shape-rendering="crispEdges"/>
<line x1="327.5" y1="213.5" x2="327.5" y2="216.1" stroke="#000" stroke-width="1" shape-rendering="crispEdges"/>
<line x1="329.5" y1="213.5" x2="329.5" y2="216.1" stroke="#000" stroke-width="1" shape-rendering="crispEdges"/>
<line x1="330.5" y1="213.5" x2="330.5" y2="216.1" stroke="#000" stroke-width="1" shape-rendering="crispEdges"/>
<line x1="331.5" y1="213.5" x2="331.5" y2="216.1" stroke="#000" stroke-width="1" shape-rendering="crispEdges"/>
<line x1="332.5" y1="213.5" x2="332.5" y2="216.1" stroke="#000" stroke-width="1" shape-rendering="crispEdges"/>
<line x1="333.5" y1="213.5" x2="333.5" y2="218.1" stroke="#000" stroke-width="1" shape-rendering="crispEdges"/>
<line x1="340.5" y1="213.5" x2="340.5" y2="216.1" stroke="#000" stroke-width="1" shape-rendering="crispEdges"/>
<line x1="343.5" y1="213.5" x2="343.5" y2="216.1" stroke="#000" stroke-width="1" shape-rendering="crispEdges"/>
<line x1="346.5" y1="213.5" x2="346.5" y2="216.1" stroke="#000" stroke-width="1" shape-rendering="crispEdges"/>
<line x1="348.5" y1="213.5" x2="348.5" y2="216.1" stroke="#000" stroke-width="1" shape-rendering="crispEdges"/>
<line x1="350.5" y1="213.5" x2="350.5" y2="216.1" stroke="#000" stroke-width="1" shape-rendering="crispEdges"/>
<line x1="351.5" y1="213.5" x2="351.5" y2="216.1" stroke="#000" stroke-width="1" shape-rendering="crispEdges"/>
<line x1="352.5" y1="213.5" x2="352.5" y2="216.1" stroke="#000" stroke-width="1" shape-rendering="crispEdges"/>
<line x1="354.5" y1="213.5" x2="354.5" y2="216.1" stroke="#000" stroke-width="1" shape-rendering="crispEdges"/>
<line x1="354.5" y1="213.5" x2="354.5" y2="218.1" stroke="#000" stroke-width="0.8" />
<text x="262.3" y="145" font-size="10.5" font-family='"Liberation Sans", sans-serif' text-anchor="middle" textLength="15.5" lengthAdjust="spacingAndGlyphs" stroke="#000" stroke-width="0.35" transform="rotate(-90 262.3 145)" >120</text>
<text x="260.7" y="212.6" font-size="10.8" font-family='"Liberation Sans", sans-serif' text-anchor="middle" textLength="4.6" lengthAdjust="spacingAndGlyphs" stroke="#000" stroke-width="0.35" transform="rotate(-90 260.7 212.6)" >0</text>
<text x="263.2" y="230" font-size="10.8" font-family='"Liberation Sans", sans-serif' textLength="8.6" lengthAdjust="spacingAndGlyphs" stroke="#000" stroke-width="0.35" >10</text>
<text x="273.3" y="224.5" font-size="10.8" font-family='"Liberation Sans", sans-serif' textLength="4.2" lengthAdjust="spacingAndGlyphs" stroke="#000" stroke-width="0.35" >0</text>
<text x="345.5" y="231" font-size="10.8" font-family='"Liberation Sans", sans-serif' textLength="8.8" lengthAdjust="spacingAndGlyphs" stroke="#000" stroke-width="0.35" >10</text>
<text x="356.3" y="225.5" font-size="10.8" font-family='"Liberation Sans", sans-serif' textLength="5.2" lengthAdjust="spacingAndGlyphs" stroke="#000" stroke-width="0.35" >4</text>
<polyline points="270,211.8 272,210.9 273.4,209.1 274.7,207.1 276.1,204.4 277.4,200.4 278.8,195 280.1,189.6 281.5,184.2 282.8,178.8 283.9,174.8 284.8,175.5 285.5,173.5 286.4,170.8 287.2,174.8 288.2,178.8 289.5,184.2 290.9,188.9 292.2,193 294.2,197 296.3,200.4 298.3,203.1 300.3,205.8 302.3,207.1 304.3,208.5 307,209.8 309.7,210.5 312.4,210.5 315.1,210.9 317.8,211.1 320.5,212.5 323.2,213.4 325.9,213.6" fill="none" stroke="#000" stroke-width="1" stroke-linejoin="round"/>
<line x1="298" y1="199.9" x2="344.6" y2="199.9" stroke="#000" stroke-width="1.3" />
<line x1="298" y1="196.7" x2="298" y2="203.1" stroke="#000" stroke-width="1.3" />
<line x1="344.6" y1="196.7" x2="344.6" y2="203.1" stroke="#000" stroke-width="1.3" />
<text x="310.8" y="193.8" font-size="12.5" font-family='"Liberation Serif", serif' font-weight="bold" textLength="26.9" lengthAdjust="spacingAndGlyphs" stroke="#000" stroke-width="0.3" >5.7%</text>
<rect x="384" y="146" width="87" height="67" fill="none" stroke="#000" stroke-width="1.3" />
<line x1="379.6" y1="213.5" x2="384" y2="213.5" stroke="#000" stroke-width="1" shape-rendering="crispEdges"/>
<line x1="381.4" y1="211.5" x2="384" y2="211.5" stroke="#000" stroke-width="1" shape-rendering="crispEdges"/>
<line x1="381.4" y1="209.5" x2="384" y2="209.5" stroke="#000" stroke-width="1" shape-rendering="crispEdges"/>
<line x1="381.4" y1="206.5" x2="384" y2="206.5" stroke="#000" stroke-width="1" shape-rendering="crispEdges"/>
<line x1="381.4" y1="204.5" x2="384" y2="204.5" stroke="#000" stroke-width="1" shape-rendering="crispEdges"/>
<line x1="379.6" y1="202.5" x2="384" y2="202.5" stroke="#000" stroke-width="1" shape-rendering="crispEdges"/>
<line x1="381.4" y1="200.5" x2="384" y2="200.5" stroke="#000" stroke-width="1" shape-rendering="crispEdges"/>
<line x1="381.4" y1="197.5" x2="384" y2="197.5" stroke="#000" stroke-width="1" shape-rendering="crispEdges"/>
<line x1="381.4" y1="195.5" x2="384" y2="195.5" stroke="#000" stroke-width="1" shape-rendering="crispEdges"/>
<line x1="381.4" y1="193.5" x2="384" y2="193.5" stroke="#000" stroke-width="1" shape-rendering="crispEdges"/>
<line x1="379.6" y1="191.5" x2="384" y2="191.5" stroke="#000" stroke-width="1" shape-rendering="crispEdges"/>
<line x1="381.4" y1="188.5" x2="384" y2="188.5" stroke="#000" stroke-width="1" shape-rendering="crispEdges"/>
<line x1="381.4" y1="186.5" x2="384" y2="186.5" stroke="#000" stroke-width="1" shape-rendering="crispEdges"/>
<line x1="381.4" y1="184.5" x2="384" y2="184.5" stroke="#000" stroke-width="1" shape-rendering="crispEdges"/>
<line x1="381.4" y1="182.5" x2="384" y2="182.5" stroke="#000" stroke-width="1" shape-rendering="crispEdges"/>
<line x1="379.6" y1="180.5" x2="384" y2="180.5" stroke="#000" stroke-width="1" shape-rendering="crispEdges"/>
<line x1="381.4" y1="177.5" x2="384" y2="177.5" stroke="#000" stroke-width="1" shape-rendering="crispEdges"/>
<line x1="381.4" y1="175.5" x2="384" y2="175.5" stroke="#000" stroke-width="1" shape-rendering="crispEdges"/>
<line x1="381.4" y1="173.5" x2="384" y2="173.5" stroke="#000" stroke-width="1" shape-rendering="crispEdges"/>
<line x1="381.4" y1="171.5" x2="384" y2="171.5" stroke="#000" stroke-width="1" shape-rendering="crispEdges"/>
<line x1="379.6" y1="168.5" x2="384" y2="168.5" stroke="#000" stroke-width="1" shape-rendering="crispEdges"/>
<line x1="381.4" y1="166.5" x2="384" y2="166.5" stroke="#000" stroke-width="1" shape-rendering="crispEdges"/>
<line x1="381.4" y1="164.5" x2="384" y2="164.5" stroke="#000" stroke-width="1" shape-rendering="crispEdges"/>
<line x1="381.4" y1="162.5" x2="384" y2="162.5" stroke="#000" stroke-width="1" shape-rendering="crispEdges"/>
<line x1="381.4" y1="159.5" x2="384" y2="159.5" stroke="#000" stroke-width="1" shape-rendering="crispEdges"/>
<line x1="379.6" y1="157.5" x2="384" y2="157.5" stroke="#000" stroke-width="1" shape-rendering="crispEdges"/>
<line x1="381.4" y1="155.5" x2="384" y2="155.5" stroke="#000" stroke-width="1" shape-rendering="crispEdges"/>
<line x1="381.4" y1="153.5" x2="384" y2="153.5" stroke="#000" stroke-width="1" shape-rendering="crispEdges"/>
<line x1="381.4" y1="150.5" x2="384" y2="150.5" stroke="#000" stroke-width="1" shape-rendering="crispEdges"/>
<line x1="381.4" y1="148.5" x2="384" y2="148.5" stroke="#000" stroke-width="1" shape-rendering="crispEdges"/>
<line x1="379.6" y1="146.5" x2="384" y2="146.5" stroke="#000" stroke-width="1" shape-rendering="crispEdges"/>
<line x1="384.5" y1="213" x2="384.5" y2="217.6" stroke="#000" stroke-width="1" shape-rendering="crispEdges"/>
<line x1="391.5" y1="213" x2="391.5" y2="215.6" stroke="#000" stroke-width="1" shape-rendering="crispEdges"/>
<line x1="394.5" y1="213" x2="394.5" y2="215.6" stroke="#000" stroke-width="1" shape-rendering="crispEdges"/>
<line x1="397.5" y1="213" x2="397.5" y2="215.6" stroke="#000" stroke-width="1" shape-rendering="crispEdges"/>
<line x1="399.5" y1="213" x2="399.5" y2="215.6" stroke="#000" stroke-width="1" shape-rendering="crispEdges"/>
<line x1="401.5" y1="213" x2="401.5" y2="215.6" stroke="#000" stroke-width="1" shape-rendering="crispEdges"/>
<line x1="402.5" y1="213" x2="402.5" y2="215.6" stroke="#000" stroke-width="1" shape-rendering="crispEdges"/>
<line x1="404.5" y1="213" x2="404.5" y2="215.6" stroke="#000" stroke-width="1" shape-rendering="crispEdges"/>
<line x1="405.5" y1="213" x2="405.5" y2="215.6" stroke="#000" stroke-width="1" shape-rendering="crispEdges"/>
<line x1="406.5" y1="213" x2="406.5" y2="217.6" stroke="#000" stroke-width="1" shape-rendering="crispEdges"/>
<line x1="412.5" y1="213" x2="412.5" y2="215.6" stroke="#000" stroke-width="1" shape-rendering="crispEdges"/>
<line x1="416.5" y1="213" x2="416.5" y2="215.6" stroke="#000" stroke-width="1" shape-rendering="crispEdges"/>
<line x1="419.5" y1="213" x2="419.5" y2="215.6" stroke="#000" stroke-width="1" shape-rendering="crispEdges"/>
<line x1="421.5" y1="213" x2="421.5" y2="215.6" stroke="#000" stroke-width="1" shape-rendering="crispEdges"/>
<line x1="423.5" y1="213" x2="423.5" y2="215.6" stroke="#000" stroke-width="1" shape-rendering="crispEdges"/>
<line x1="424.5" y1="213" x2="424.5" y2="215.6" stroke="#000" stroke-width="1" shape-rendering="crispEdges"/>
<line x1="425.5" y1="213" x2="425.5" y2="215.6" stroke="#000" stroke-width="1" shape-rendering="crispEdges"/>
<line x1="427.5" y1="213" x2="427.5" y2="215.6" stroke="#000" stroke-width="1" shape-rendering="crispEdges"/>
<line x1="428.5" y1="213" x2="428.5" y2="217.6" stroke="#000" stroke-width="1" shape-rendering="crispEdges"/>
<line x1="434.5" y1="213" x2="434.5" y2="215.6" stroke="#000" stroke-width="1" shape-rendering="crispEdges"/>
<line x1="438.5" y1="213" x2="438.5" y2="215.6" stroke="#000" stroke-width="1" shape-rendering="crispEdges"/>
<line x1="441.5" y1="213" x2="441.5" y2="215.6" stroke="#000" stroke-width="1" shape-rendering="crispEdges"/>
<line x1="443.5" y1="213" x2="443.5" y2="215.6" stroke="#000" stroke-width="1" shape-rendering="crispEdges"/>
<line x1="444.5" y1="213" x2="444.5" y2="215.6" stroke="#000" stroke-width="1" shape-rendering="crispEdges"/>
<line x1="446.5" y1="213" x2="446.5" y2="215.6" stroke="#000" stroke-width="1" shape-rendering="crispEdges"/>
<line x1="447.5" y1="213" x2="447.5" y2="215.6" stroke="#000" stroke-width="1" shape-rendering="crispEdges"/>
<line x1="448.5" y1="213" x2="448.5" y2="215.6" stroke="#000" stroke-width="1" shape-rendering="crispEdges"/>
<line x1="449.5" y1="213" x2="449.5" y2="217.6" stroke="#000" stroke-width="1" shape-rendering="crispEdges"/>
<line x1="456.5" y1="213" x2="456.5" y2="215.6" stroke="#000" stroke-width="1" shape-rendering="crispEdges"/>
<line x1="460.5" y1="213" x2="460.5" y2="215.6" stroke="#000" stroke-width="1" shape-rendering="crispEdges"/>
<line x1="462.5" y1="213" x2="462.5" y2="215.6" stroke="#000" stroke-width="1" shape-rendering="crispEdges"/>
<line x1="464.5" y1="213" x2="464.5" y2="215.6" stroke="#000" stroke-width="1" shape-rendering="crispEdges"/>
<line x1="466.5" y1="213" x2="466.5" y2="215.6" stroke="#000" stroke-width="1" shape-rendering="crispEdges"/>
<line x1="468.5" y1="213" x2="468.5" y2="215.6" stroke="#000" stroke-width="1" shape-rendering="crispEdges"/>
<line x1="469.5" y1="213" x2="469.5" y2="215.6" stroke="#000" stroke-width="1" shape-rendering="crispEdges"/>
<line x1="470.5" y1="213" x2="470.5" y2="215.6" stroke="#000" stroke-width="1" shape-rendering="crispEdges"/>
<line x1="471" y1="213" x2="471" y2="217.6" stroke="#000" stroke-width="0.8" />
<text x="376.3" y="146" font-size="10.5" font-family='"Liberation Sans", sans-serif' text-anchor="middle" textLength="15.5" lengthAdjust="spacingAndGlyphs" stroke="#000" stroke-width="0.35" transform="rotate(-90 376.3 146)" >120</text>
<text x="375.2" y="212.1" font-size="10.8" font-family='"Liberation Sans", sans-serif' text-anchor="middle" textLength="4.6" lengthAdjust="spacingAndGlyphs" stroke="#000" stroke-width="0.35" transform="rotate(-90 375.2 212.1)" >0</text>
<text x="377.7" y="229.5" font-size="10.8" font-family='"Liberation Sans", sans-serif' textLength="8.6" lengthAdjust="spacingAndGlyphs" stroke="#000" stroke-width="0.35" >10</text>
<text x="387.8" y="224" font-size="10.8" font-family='"Liberation Sans", sans-serif' textLength="4.2" lengthAdjust="spacingAndGlyphs" stroke="#000" stroke-width="0.35" >0</text>
<text x="462" y="230.5" font-size="10.8" font-family='"Liberation Sans", sans-serif' textLength="8.8" lengthAdjust="spacingAndGlyphs" stroke="#000" stroke-width="0.35" >10</text>
<text x="472.8" y="225" font-size="10.8" font-family='"Liberation Sans", sans-serif' textLength="5.2" lengthAdjust="spacingAndGlyphs" stroke="#000" stroke-width="0.35" >4</text>
<polyline points="384.7,211.1 386,209.8 387.4,207.1 388.7,203.1 390.1,197.7 391.4,189.6 392.8,182.9 394.1,178.8 395.5,176.8 396.8,175.9 397.5,174.5 398.2,178.8 399.5,185.6 400.8,190.3 402.2,193 403.5,195 404.9,195.7 406.2,197 407.6,199 408.9,201 410.3,203.1 411.6,205.1 413.6,206.4 415.6,207.1 417.7,207.8 419.7,208.5 422.4,209.1 425.1,209.8 427.8,210.5 430.5,210.9 433.1,211.1 435.8,211.8" fill="none" stroke="#000" stroke-width="1" stroke-linejoin="round"/>
<line x1="411.1" y1="201.2" x2="457.4" y2="201.2" stroke="#000" stroke-width="1.3" />
<line x1="411.1" y1="198" x2="411.1" y2="204.4" stroke="#000" stroke-width="1.3" />
<line x1="457.4" y1="198" x2="457.4" y2="204.4" stroke="#000" stroke-width="1.3" />
<text x="423.4" y="194.7" font-size="12.5" font-family='"Liberation Serif", serif' font-weight="bold" textLength="26.4" lengthAdjust="spacingAndGlyphs" stroke="#000" stroke-width="0.3" >7.1%</text>
<rect x="248" y="30" width="5.6" height="20" fill="#fff" stroke="none" stroke-width="0" />
<text x="62.9" y="30.6" font-size="11.5" font-family='"Liberation Serif", serif' font-weight="bold" textLength="36.3" lengthAdjust="spacingAndGlyphs" stroke="#000" stroke-width="0.3" >Control</text>
<text x="0" y="0" font-size="11" font-family='"Liberation Serif", serif' font-weight="bold" stroke="#000" stroke-width="0.3" transform="translate(183.1 10.2) scale(0.9937 1)">H<tspan font-size="7.04" dy="3.3">2</tspan><tspan dy="-3.3">O</tspan><tspan font-size="7.04" dy="3.3">2</tspan><tspan dy="-3.3"></tspan></text>
<text x="194.7" y="22.3" font-size="12" font-family='"Liberation Serif", serif' font-weight="bold" text-anchor="middle" stroke="#000" stroke-width="0.3" >+</text>
<text x="167" y="31.5" font-size="11.5" font-family='"Liberation Serif", serif' font-weight="bold" textLength="58" lengthAdjust="spacingAndGlyphs" stroke="#000" stroke-width="0.3" >medium 24h</text>
<text x="266.5" y="23" font-size="11.2" font-family='"Liberation Serif", serif' font-weight="bold" textLength="81.8" lengthAdjust="spacingAndGlyphs" stroke="#000" stroke-width="0.3" >Anti-RLIP76 24h</text>
<text x="0" y="0" font-size="11" font-family='"Liberation Serif", serif' font-weight="bold" stroke="#000" stroke-width="0.3" transform="translate(408.8 7.9) scale(1.0061 1)">H<tspan font-size="7.04" dy="3.3">2</tspan><tspan dy="-3.3">O</tspan><tspan font-size="7.04" dy="3.3">2</tspan><tspan dy="-3.3"></tspan></text>
<text x="420.9" y="19.4" font-size="12" font-family='"Liberation Serif", serif' font-weight="bold" text-anchor="middle" stroke="#000" stroke-width="0.3" >+</text>
<text x="380" y="28.8" font-size="11.2" font-family='"Liberation Serif", serif' font-weight="bold" textLength="81.3" lengthAdjust="spacingAndGlyphs" stroke="#000" stroke-width="0.3" >Anti-RLIP76 24h</text>
<text x="481.7" y="77.3" font-size="11.5" font-family='"Liberation Serif", serif' font-weight="bold" textLength="38.3" lengthAdjust="spacingAndGlyphs" stroke="#000" stroke-width="0.3" >without</text>
<text x="481.7" y="91.7" font-size="11.5" font-family='"Liberation Serif", serif' font-weight="bold" textLength="29.6" lengthAdjust="spacingAndGlyphs" stroke="#000" stroke-width="0.3" >zVAD</text>
<text x="483" y="176" font-size="11.5" font-family='"Liberation Serif", serif' font-weight="bold" textLength="22" lengthAdjust="spacingAndGlyphs" stroke="#000" stroke-width="0.3" >with</text>
<text x="483" y="191" font-size="11.5" font-family='"Liberation Serif", serif' font-weight="bold" textLength="31.2" lengthAdjust="spacingAndGlyphs" stroke="#000" stroke-width="0.3" >zVAD</text>
<text x="18.2" y="118.3" font-size="12.6" font-family='"Liberation Serif", serif' font-weight="bold" text-anchor="middle" textLength="36.6" lengthAdjust="spacingAndGlyphs" stroke="#000" stroke-width="0.3" transform="rotate(-90 18.2 118.3)" >Counts</text>
<text x="217" y="249.5" font-size="11.5" font-family='"Liberation Serif", serif' font-weight="bold" textLength="80.5" lengthAdjust="spacingAndGlyphs" stroke="#000" stroke-width="0.3" >Active caspase3</text>
<text x="-0.2" y="276.3" font-size="16.5" font-family='"Liberation Sans", sans-serif' font-weight="bold" textLength="11.8" lengthAdjust="spacingAndGlyphs" >B</text>
<line x1="56.3" y1="290.2" x2="56.3" y2="440.5" stroke="#000" stroke-width="1.3" />
<line x1="55.7" y1="440" x2="266.9" y2="440" stroke="#000" stroke-width="1.3" />
<text x="52.6" y="444.3" font-size="12.3" font-family='"Liberation Serif", serif' font-weight="bold" text-anchor="end" textLength="6.3" lengthAdjust="spacingAndGlyphs" stroke="#000" stroke-width="0.3" >0</text>
<line x1="56.3" y1="427.54" x2="59.2" y2="427.54" stroke="#000" stroke-width="1.2" />
<line x1="56.3" y1="415.08" x2="60.9" y2="415.08" stroke="#000" stroke-width="1.2" />
<text x="52.6" y="419.38" font-size="12.3" font-family='"Liberation Serif", serif' font-weight="bold" text-anchor="end" textLength="6.3" lengthAdjust="spacingAndGlyphs" stroke="#000" stroke-width="0.3" >5</text>
<line x1="56.3" y1="402.62" x2="59.2" y2="402.62" stroke="#000" stroke-width="1.2" />
<line x1="56.3" y1="390.17" x2="60.9" y2="390.17" stroke="#000" stroke-width="1.2" />
<text x="52.6" y="394.47" font-size="12.3" font-family='"Liberation Serif", serif' font-weight="bold" text-anchor="end" textLength="12.6" lengthAdjust="spacingAndGlyphs" stroke="#000" stroke-width="0.3" >10</text>
<line x1="56.3" y1="377.71" x2="59.2" y2="377.71" stroke="#000" stroke-width="1.2" />
<line x1="56.3" y1="365.25" x2="60.9" y2="365.25" stroke="#000" stroke-width="1.2" />
<text x="52.6" y="369.55" font-size="12.3" font-family='"Liberation Serif", serif' font-weight="bold" text-anchor="end" textLength="12.6" lengthAdjust="spacingAndGlyphs" stroke="#000" stroke-width="0.3" >15</text>
<line x1="56.3" y1="352.79" x2="59.2" y2="352.79" stroke="#000" stroke-width="1.2" />
<line x1="56.3" y1="340.33" x2="60.9" y2="340.33" stroke="#000" stroke-width="1.2" />
<text x="52.6" y="344.63" font-size="12.3" font-family='"Liberation Serif", serif' font-weight="bold" text-anchor="end" textLength="12.6" lengthAdjust="spacingAndGlyphs" stroke="#000" stroke-width="0.3" >20</text>
<line x1="56.3" y1="327.88" x2="59.2" y2="327.88" stroke="#000" stroke-width="1.2" />
<line x1="56.3" y1="315.42" x2="60.9" y2="315.42" stroke="#000" stroke-width="1.2" />
<text x="52.6" y="319.72" font-size="12.3" font-family='"Liberation Serif", serif' font-weight="bold" text-anchor="end" textLength="12.6" lengthAdjust="spacingAndGlyphs" stroke="#000" stroke-width="0.3" >25</text>
<line x1="56.3" y1="302.96" x2="59.2" y2="302.96" stroke="#000" stroke-width="1.2" />
<line x1="56.3" y1="290.5" x2="60.9" y2="290.5" stroke="#000" stroke-width="1.2" />
<text x="52.6" y="294.8" font-size="12.3" font-family='"Liberation Serif", serif' font-weight="bold" text-anchor="end" textLength="12.6" lengthAdjust="spacingAndGlyphs" stroke="#000" stroke-width="0.3" >30</text>
<line x1="72.65" y1="411.1" x2="72.65" y2="418.7" stroke="#000" stroke-width="1.2" />
<line x1="70.45" y1="411.1" x2="74.85" y2="411.1" stroke="#000" stroke-width="1.2" />
<line x1="70.45" y1="418.7" x2="74.85" y2="418.7" stroke="#000" stroke-width="1" />
<line x1="68" y1="440" x2="68" y2="418.7" stroke="#000" stroke-width="1.2" stroke-dasharray="4.2 1.8"/>
<line x1="68" y1="418.7" x2="77.9" y2="418.7" stroke="#000" stroke-width="1.1" stroke-dasharray="2.4 1.6"/>
<line x1="83.6" y1="406.8" x2="83.6" y2="416.5" stroke="#000" stroke-width="1.3" />
<line x1="81" y1="406.8" x2="86.2" y2="406.8" stroke="#000" stroke-width="1.3" />
<rect x="77.9" y="416.5" width="11.4" height="23.5" fill="#000" stroke="#000" stroke-width="1" />
<line x1="94.7" y1="404.1" x2="94.7" y2="414.5" stroke="#000" stroke-width="1.3" />
<line x1="92.1" y1="404.1" x2="97.3" y2="404.1" stroke="#000" stroke-width="1.3" />
<rect x="89.9" y="415.1" width="9.6" height="24.9" fill="#fff" stroke="#000" stroke-width="1.3" />
<line x1="105.85" y1="398.3" x2="105.85" y2="408.8" stroke="#000" stroke-width="1.3" />
<line x1="103.25" y1="398.3" x2="108.45" y2="398.3" stroke="#000" stroke-width="1.3" />
<rect x="100.7" y="409.4" width="10.3" height="30.6" fill="url(#dots)" stroke="#000" stroke-width="1.3" />
<line x1="142.6" y1="413.2" x2="142.6" y2="418.5" stroke="#000" stroke-width="1.2" />
<line x1="140.4" y1="413.2" x2="144.8" y2="413.2" stroke="#000" stroke-width="1.2" />
<line x1="140.4" y1="418.5" x2="144.8" y2="418.5" stroke="#000" stroke-width="1" />
<line x1="137.5" y1="440" x2="137.5" y2="418.5" stroke="#000" stroke-width="1.2" stroke-dasharray="4.2 1.8"/>
<line x1="137.5" y1="418.5" x2="148.3" y2="418.5" stroke="#000" stroke-width="1.1" stroke-dasharray="2.4 1.6"/>
<line x1="153.85" y1="399" x2="153.85" y2="410" stroke="#000" stroke-width="1.3" />
<line x1="151.25" y1="399" x2="156.45" y2="399" stroke="#000" stroke-width="1.3" />
<rect x="148.3" y="410" width="11.1" height="30" fill="#000" stroke="#000" stroke-width="1" />
<line x1="164.8" y1="370.2" x2="164.8" y2="385.5" stroke="#000" stroke-width="1.3" />
<line x1="162.2" y1="370.2" x2="167.4" y2="370.2" stroke="#000" stroke-width="1.3" />
<rect x="160" y="386.1" width="9.6" height="53.9" fill="#fff" stroke="#000" stroke-width="1.3" />
<line x1="176.2" y1="354.8" x2="176.2" y2="371.4" stroke="#000" stroke-width="1.3" />
<line x1="173.6" y1="354.8" x2="178.8" y2="354.8" stroke="#000" stroke-width="1.3" />
<rect x="170.8" y="372" width="10.8" height="68" fill="url(#dots)" stroke="#000" stroke-width="1.3" />
<line x1="212.75" y1="405.2" x2="212.75" y2="415.4" stroke="#000" stroke-width="1.2" />
<line x1="210.55" y1="405.2" x2="214.95" y2="405.2" stroke="#000" stroke-width="1.2" />
<line x1="210.55" y1="415.4" x2="214.95" y2="415.4" stroke="#000" stroke-width="1" />
<line x1="207.6" y1="440" x2="207.6" y2="415.4" stroke="#000" stroke-width="1.2" stroke-dasharray="4.2 1.8"/>
<line x1="207.6" y1="415.4" x2="218.5" y2="415.4" stroke="#000" stroke-width="1.1" stroke-dasharray="2.4 1.6"/>
<line x1="223.85" y1="392.9" x2="223.85" y2="406.8" stroke="#000" stroke-width="1.3" />
<line x1="221.25" y1="392.9" x2="226.45" y2="392.9" stroke="#000" stroke-width="1.3" />
<rect x="218.5" y="406.8" width="10.7" height="33.2" fill="#000" stroke="#000" stroke-width="1" />
<line x1="234.7" y1="337.8" x2="234.7" y2="356" stroke="#000" stroke-width="1.3" />
<line x1="232.1" y1="337.8" x2="237.3" y2="337.8" stroke="#000" stroke-width="1.3" />
<rect x="229.8" y="356.6" width="9.8" height="83.4" fill="#fff" stroke="#000" stroke-width="1.3" />
<line x1="246.4" y1="304.6" x2="246.4" y2="327" stroke="#000" stroke-width="1.3" />
<line x1="243.8" y1="304.6" x2="249" y2="304.6" stroke="#000" stroke-width="1.3" />
<rect x="240.8" y="327.6" width="11.2" height="112.4" fill="url(#dots)" stroke="#000" stroke-width="1.3" />
<text x="73.2" y="456.5" font-size="12" font-family='"Liberation Serif", serif' font-weight="bold" textLength="35" lengthAdjust="spacingAndGlyphs" stroke="#000" stroke-width="0.3" >30 min</text>
<text x="149.5" y="455.8" font-size="12" font-family='"Liberation Serif", serif' font-weight="bold" textLength="15" lengthAdjust="spacingAndGlyphs" stroke="#000" stroke-width="0.3" >6 h</text>
<text x="220" y="455.8" font-size="12" font-family='"Liberation Serif", serif' font-weight="bold" textLength="21.3" lengthAdjust="spacingAndGlyphs" stroke="#000" stroke-width="0.3" >24 h</text>
<text x="28.6" y="347.2" font-size="11.5" font-family='"Liberation Serif", serif' font-weight="bold" text-anchor="middle" textLength="159" lengthAdjust="spacingAndGlyphs" stroke="#000" stroke-width="0.3" transform="rotate(-90 28.6 347.2)" >Cells with active caspase 3 (%)</text>
<rect x="83.9" y="258.9" width="10.7" height="10.7" fill="none" stroke="#000" stroke-width="1.2" stroke-dasharray="1.6 2.4"/>
<rect x="83.3" y="279.9" width="11.9" height="10.9" fill="#000" stroke="#000" stroke-width="0.8" />
<rect x="84.05" y="301.35" width="10.4" height="9.7" fill="#fff" stroke="#000" stroke-width="1.5" />
<rect x="84.05" y="322.95" width="10.4" height="9.3" fill="url(#dots2)" stroke="#000" stroke-width="1.5" />
<text x="101" y="268.7" font-size="11.2" font-family='"Liberation Serif", serif' font-weight="bold" textLength="47.2" lengthAdjust="spacingAndGlyphs" stroke="#000" stroke-width="0.3" >Untreated</text>
<text x="0" y="0" font-size="11.2" font-family='"Liberation Serif", serif' font-weight="bold" stroke="#000" stroke-width="0.3" transform="translate(101 290.2) scale(1.0003 1)">H<tspan font-size="7.17" dy="3.36">2</tspan><tspan dy="-3.36">O</tspan><tspan font-size="7.17" dy="3.36">2</tspan><tspan dy="-3.36"></tspan></text>
<text x="101" y="311.5" font-size="11.2" font-family='"Liberation Serif", serif' font-weight="bold" textLength="61" lengthAdjust="spacingAndGlyphs" stroke="#000" stroke-width="0.3" >Anti-RLIP76</text>
<text x="0" y="0" font-size="11.2" font-family='"Liberation Serif", serif' font-weight="bold" stroke="#000" stroke-width="0.3" transform="translate(101 331.8) scale(0.9904 1)">H<tspan font-size="7.17" dy="3.36">2</tspan><tspan dy="-3.36">O</tspan><tspan font-size="7.17" dy="3.36">2</tspan><tspan dy="-3.36"> + anti-RLIP76</tspan></text>
<text x="268.6" y="276.2" font-size="16.5" font-family='"Liberation Sans", sans-serif' font-weight="bold" textLength="12.2" lengthAdjust="spacingAndGlyphs" >C</text>
<line x1="291.8" y1="289.5" x2="291.8" y2="438.5" stroke="#000" stroke-width="1.3" />
<line x1="291.2" y1="438" x2="510.6" y2="438" stroke="#000" stroke-width="1.3" />
<text x="287.2" y="442.3" font-size="12.3" font-family='"Liberation Serif", serif' font-weight="bold" text-anchor="end" textLength="6.3" lengthAdjust="spacingAndGlyphs" stroke="#000" stroke-width="0.3" >0</text>
<line x1="291.8" y1="425.65" x2="294.7" y2="425.65" stroke="#000" stroke-width="1.2" />
<line x1="291.8" y1="413.3" x2="296.4" y2="413.3" stroke="#000" stroke-width="1.2" />
<text x="287.2" y="417.6" font-size="12.3" font-family='"Liberation Serif", serif' font-weight="bold" text-anchor="end" textLength="6.3" lengthAdjust="spacingAndGlyphs" stroke="#000" stroke-width="0.3" >5</text>
<line x1="291.8" y1="400.95" x2="294.7" y2="400.95" stroke="#000" stroke-width="1.2" />
<line x1="291.8" y1="388.6" x2="296.4" y2="388.6" stroke="#000" stroke-width="1.2" />
<text x="287.2" y="392.9" font-size="12.3" font-family='"Liberation Serif", serif' font-weight="bold" text-anchor="end" textLength="12.6" lengthAdjust="spacingAndGlyphs" stroke="#000" stroke-width="0.3" >10</text>
<line x1="291.8" y1="376.25" x2="294.7" y2="376.25" stroke="#000" stroke-width="1.2" />
<line x1="291.8" y1="363.9" x2="296.4" y2="363.9" stroke="#000" stroke-width="1.2" />
<text x="287.2" y="368.2" font-size="12.3" font-family='"Liberation Serif", serif' font-weight="bold" text-anchor="end" textLength="12.6" lengthAdjust="spacingAndGlyphs" stroke="#000" stroke-width="0.3" >15</text>
<line x1="291.8" y1="351.55" x2="294.7" y2="351.55" stroke="#000" stroke-width="1.2" />
<line x1="291.8" y1="339.2" x2="296.4" y2="339.2" stroke="#000" stroke-width="1.2" />
<text x="287.2" y="343.5" font-size="12.3" font-family='"Liberation Serif", serif' font-weight="bold" text-anchor="end" textLength="12.6" lengthAdjust="spacingAndGlyphs" stroke="#000" stroke-width="0.3" >20</text>
<line x1="291.8" y1="326.85" x2="294.7" y2="326.85" stroke="#000" stroke-width="1.2" />
<line x1="291.8" y1="314.5" x2="296.4" y2="314.5" stroke="#000" stroke-width="1.2" />
<text x="287.2" y="318.8" font-size="12.3" font-family='"Liberation Serif", serif' font-weight="bold" text-anchor="end" textLength="12.6" lengthAdjust="spacingAndGlyphs" stroke="#000" stroke-width="0.3" >25</text>
<line x1="291.8" y1="302.15" x2="294.7" y2="302.15" stroke="#000" stroke-width="1.2" />
<line x1="291.8" y1="289.8" x2="296.4" y2="289.8" stroke="#000" stroke-width="1.2" />
<text x="287.2" y="294.1" font-size="12.3" font-family='"Liberation Serif", serif' font-weight="bold" text-anchor="end" textLength="12.6" lengthAdjust="spacingAndGlyphs" stroke="#000" stroke-width="0.3" >30</text>
<line x1="308.6" y1="414" x2="308.6" y2="419.3" stroke="#000" stroke-width="1.2" />
<line x1="306.4" y1="414" x2="310.8" y2="414" stroke="#000" stroke-width="1.2" />
<line x1="306.4" y1="419.3" x2="310.8" y2="419.3" stroke="#000" stroke-width="1" />
<line x1="303.1" y1="438" x2="303.1" y2="419.3" stroke="#000" stroke-width="1.2" stroke-dasharray="4.2 1.8"/>
<line x1="303.1" y1="419.3" x2="314.7" y2="419.3" stroke="#000" stroke-width="1.1" stroke-dasharray="2.4 1.6"/>
<line x1="320.75" y1="409.5" x2="320.75" y2="417.3" stroke="#000" stroke-width="1.3" />
<line x1="318.15" y1="409.5" x2="323.35" y2="409.5" stroke="#000" stroke-width="1.3" />
<rect x="314.7" y="417.3" width="12.1" height="20.7" fill="#000" stroke="#000" stroke-width="1" />
<line x1="333.1" y1="402.7" x2="333.1" y2="412.7" stroke="#000" stroke-width="1.3" />
<line x1="330.5" y1="402.7" x2="335.7" y2="402.7" stroke="#000" stroke-width="1.3" />
<rect x="327.4" y="413.3" width="11.4" height="24.7" fill="#fff" stroke="#000" stroke-width="1.3" />
<line x1="345.75" y1="394.7" x2="345.75" y2="406" stroke="#000" stroke-width="1.3" />
<line x1="343.15" y1="394.7" x2="348.35" y2="394.7" stroke="#000" stroke-width="1.3" />
<rect x="340" y="406.6" width="11.5" height="31.4" fill="url(#dots)" stroke="#000" stroke-width="1.3" />
<line x1="381.05" y1="410.5" x2="381.05" y2="418.6" stroke="#000" stroke-width="1.2" />
<line x1="378.85" y1="410.5" x2="383.25" y2="410.5" stroke="#000" stroke-width="1.2" />
<line x1="378.85" y1="418.6" x2="383.25" y2="418.6" stroke="#000" stroke-width="1" />
<line x1="375.8" y1="438" x2="375.8" y2="418.6" stroke="#000" stroke-width="1.2" stroke-dasharray="4.2 1.8"/>
<line x1="375.8" y1="418.6" x2="386.9" y2="418.6" stroke="#000" stroke-width="1.1" stroke-dasharray="2.4 1.6"/>
<line x1="393.3" y1="410.8" x2="393.3" y2="417.3" stroke="#000" stroke-width="1.3" />
<line x1="390.7" y1="410.8" x2="395.9" y2="410.8" stroke="#000" stroke-width="1.3" />
<rect x="386.9" y="417.3" width="12.8" height="20.7" fill="#000" stroke="#000" stroke-width="1" />
<line x1="405.6" y1="412.7" x2="405.6" y2="418.9" stroke="#000" stroke-width="1.3" />
<line x1="403" y1="412.7" x2="408.2" y2="412.7" stroke="#000" stroke-width="1.3" />
<rect x="400.3" y="419.5" width="10.6" height="18.5" fill="#fff" stroke="#000" stroke-width="1.3" />
<line x1="417.7" y1="410" x2="417.7" y2="418.6" stroke="#000" stroke-width="1.3" />
<line x1="415.1" y1="410" x2="420.3" y2="410" stroke="#000" stroke-width="1.3" />
<rect x="412.1" y="419.2" width="11.2" height="18.8" fill="url(#dots)" stroke="#000" stroke-width="1.3" />
<line x1="453.35" y1="407.3" x2="453.35" y2="417.3" stroke="#000" stroke-width="1.2" />
<line x1="451.15" y1="407.3" x2="455.55" y2="407.3" stroke="#000" stroke-width="1.2" />
<line x1="451.15" y1="417.3" x2="455.55" y2="417.3" stroke="#000" stroke-width="1" />
<line x1="447.9" y1="438" x2="447.9" y2="417.3" stroke="#000" stroke-width="1.2" stroke-dasharray="4.2 1.8"/>
<line x1="447.9" y1="417.3" x2="459.4" y2="417.3" stroke="#000" stroke-width="1.1" stroke-dasharray="2.4 1.6"/>
<line x1="465.45" y1="407.3" x2="465.45" y2="415.4" stroke="#000" stroke-width="1.3" />
<line x1="462.85" y1="407.3" x2="468.05" y2="407.3" stroke="#000" stroke-width="1.3" />
<rect x="459.4" y="415.4" width="12.1" height="22.6" fill="#000" stroke="#000" stroke-width="1" />
<line x1="477.6" y1="387.9" x2="477.6" y2="403.8" stroke="#000" stroke-width="1.3" />
<line x1="475" y1="387.9" x2="480.2" y2="387.9" stroke="#000" stroke-width="1.3" />
<rect x="472.1" y="404.4" width="11" height="33.6" fill="#fff" stroke="#000" stroke-width="1.3" />
<line x1="490" y1="384.4" x2="490" y2="401.4" stroke="#000" stroke-width="1.3" />
<line x1="487.4" y1="384.4" x2="492.6" y2="384.4" stroke="#000" stroke-width="1.3" />
<rect x="484.3" y="402" width="11.4" height="36" fill="url(#dots)" stroke="#000" stroke-width="1.3" />
<text x="312.5" y="452.5" font-size="12" font-family='"Liberation Serif", serif' font-weight="bold" textLength="34.5" lengthAdjust="spacingAndGlyphs" stroke="#000" stroke-width="0.3" >30 min</text>
<text x="393.5" y="451.8" font-size="12" font-family='"Liberation Serif", serif' font-weight="bold" textLength="15.6" lengthAdjust="spacingAndGlyphs" stroke="#000" stroke-width="0.3" >6 h</text>
<text x="465.6" y="451.8" font-size="12" font-family='"Liberation Serif", serif' font-weight="bold" textLength="21.6" lengthAdjust="spacingAndGlyphs" stroke="#000" stroke-width="0.3" >24 h</text>
<rect x="321.2" y="258.7" width="10.9" height="10.9" fill="none" stroke="#000" stroke-width="1.2" stroke-dasharray="1.6 2.4"/>
<rect x="320.6" y="279.1" width="12.1" height="11.3" fill="#000" stroke="#000" stroke-width="0.8" />
<rect x="321.35" y="300.55" width="10.6" height="10.1" fill="#fff" stroke="#000" stroke-width="1.5" />
<rect x="321.35" y="321.25" width="10.6" height="10.1" fill="url(#dots2)" stroke="#000" stroke-width="1.5" />
<text x="338" y="268.5" font-size="11.2" font-family='"Liberation Serif", serif' font-weight="bold" textLength="29" lengthAdjust="spacingAndGlyphs" stroke="#000" stroke-width="0.3" >zVAD</text>
<text x="0" y="0" font-size="11.2" font-family='"Liberation Serif", serif' font-weight="bold" stroke="#000" stroke-width="0.3" transform="translate(338 290.5) scale(1.0211 1)">zVAD + H<tspan font-size="7.17" dy="3.36">2</tspan><tspan dy="-3.36">O</tspan><tspan font-size="7.17" dy="3.36">2</tspan><tspan dy="-3.36"></tspan></text>
<text x="338" y="311.5" font-size="11.2" font-family='"Liberation Serif", serif' font-weight="bold" textLength="100.5" lengthAdjust="spacingAndGlyphs" stroke="#000" stroke-width="0.3" >zVAD + anti-RLIP76</text>
<text x="0" y="0" font-size="11.2" font-family='"Liberation Serif", serif' font-weight="bold" stroke="#000" stroke-width="0.3" transform="translate(338 331.7) scale(1.0025 1)">zVAD + H<tspan font-size="7.17" dy="3.36">2</tspan><tspan dy="-3.36">O</tspan><tspan font-size="7.17" dy="3.36">2</tspan><tspan dy="-3.36"> + anti-RLIP76</tspan></text>
<text x="1.4" y="489.7" font-size="16.5" font-family='"Liberation Sans", sans-serif' font-weight="bold" textLength="11.6" lengthAdjust="spacingAndGlyphs" >D</text>
<line x1="137.2" y1="478.5" x2="137.2" y2="578.5" stroke="#999" stroke-width="0.8" />
<line x1="134.7" y1="582.7" x2="139.8" y2="582.7" stroke="#777" stroke-width="0.8" />
<rect x="54.7" y="485.3" width="70.8" height="72.2" fill="none" stroke="#000" stroke-width="1.3" />
<line x1="50.3" y1="558.5" x2="54.7" y2="558.5" stroke="#000" stroke-width="1" shape-rendering="crispEdges"/>
<line x1="52.1" y1="555.5" x2="54.7" y2="555.5" stroke="#000" stroke-width="1" shape-rendering="crispEdges"/>
<line x1="52.1" y1="553.5" x2="54.7" y2="553.5" stroke="#000" stroke-width="1" shape-rendering="crispEdges"/>
<line x1="52.1" y1="550.5" x2="54.7" y2="550.5" stroke="#000" stroke-width="1" shape-rendering="crispEdges"/>
<line x1="52.1" y1="548.5" x2="54.7" y2="548.5" stroke="#000" stroke-width="1" shape-rendering="crispEdges"/>
<line x1="50.3" y1="545.5" x2="54.7" y2="545.5" stroke="#000" stroke-width="1" shape-rendering="crispEdges"/>
<line x1="52.1" y1="543.5" x2="54.7" y2="543.5" stroke="#000" stroke-width="1" shape-rendering="crispEdges"/>
<line x1="52.1" y1="541.5" x2="54.7" y2="541.5" stroke="#000" stroke-width="1" shape-rendering="crispEdges"/>
<line x1="52.1" y1="538.5" x2="54.7" y2="538.5" stroke="#000" stroke-width="1" shape-rendering="crispEdges"/>
<line x1="52.1" y1="536.5" x2="54.7" y2="536.5" stroke="#000" stroke-width="1" shape-rendering="crispEdges"/>
<line x1="50.3" y1="533.5" x2="54.7" y2="533.5" stroke="#000" stroke-width="1" shape-rendering="crispEdges"/>
<line x1="52.1" y1="531.5" x2="54.7" y2="531.5" stroke="#000" stroke-width="1" shape-rendering="crispEdges"/>
<line x1="52.1" y1="529.5" x2="54.7" y2="529.5" stroke="#000" stroke-width="1" shape-rendering="crispEdges"/>
<line x1="52.1" y1="526.5" x2="54.7" y2="526.5" stroke="#000" stroke-width="1" shape-rendering="crispEdges"/>
<line x1="52.1" y1="524.5" x2="54.7" y2="524.5" stroke="#000" stroke-width="1" shape-rendering="crispEdges"/>
<line x1="50.3" y1="521.5" x2="54.7" y2="521.5" stroke="#000" stroke-width="1" shape-rendering="crispEdges"/>
<line x1="52.1" y1="519.5" x2="54.7" y2="519.5" stroke="#000" stroke-width="1" shape-rendering="crispEdges"/>
<line x1="52.1" y1="517.5" x2="54.7" y2="517.5" stroke="#000" stroke-width="1" shape-rendering="crispEdges"/>
<line x1="52.1" y1="514.5" x2="54.7" y2="514.5" stroke="#000" stroke-width="1" shape-rendering="crispEdges"/>
<line x1="52.1" y1="512.5" x2="54.7" y2="512.5" stroke="#000" stroke-width="1" shape-rendering="crispEdges"/>
<line x1="50.3" y1="509.5" x2="54.7" y2="509.5" stroke="#000" stroke-width="1" shape-rendering="crispEdges"/>
<line x1="52.1" y1="507.5" x2="54.7" y2="507.5" stroke="#000" stroke-width="1" shape-rendering="crispEdges"/>
<line x1="52.1" y1="505.5" x2="54.7" y2="505.5" stroke="#000" stroke-width="1" shape-rendering="crispEdges"/>
<line x1="52.1" y1="502.5" x2="54.7" y2="502.5" stroke="#000" stroke-width="1" shape-rendering="crispEdges"/>
<line x1="52.1" y1="500.5" x2="54.7" y2="500.5" stroke="#000" stroke-width="1" shape-rendering="crispEdges"/>
<line x1="50.3" y1="497.5" x2="54.7" y2="497.5" stroke="#000" stroke-width="1" shape-rendering="crispEdges"/>
<line x1="52.1" y1="495.5" x2="54.7" y2="495.5" stroke="#000" stroke-width="1" shape-rendering="crispEdges"/>
<line x1="52.1" y1="493.5" x2="54.7" y2="493.5" stroke="#000" stroke-width="1" shape-rendering="crispEdges"/>
<line x1="52.1" y1="490.5" x2="54.7" y2="490.5" stroke="#000" stroke-width="1" shape-rendering="crispEdges"/>
<line x1="52.1" y1="488.5" x2="54.7" y2="488.5" stroke="#000" stroke-width="1" shape-rendering="crispEdges"/>
<line x1="50.3" y1="485.5" x2="54.7" y2="485.5" stroke="#000" stroke-width="1" shape-rendering="crispEdges"/>
<line x1="55.5" y1="557.5" x2="55.5" y2="562.1" stroke="#000" stroke-width="1" shape-rendering="crispEdges"/>
<line x1="60.5" y1="557.5" x2="60.5" y2="560.1" stroke="#000" stroke-width="1" shape-rendering="crispEdges"/>
<line x1="63.5" y1="557.5" x2="63.5" y2="560.1" stroke="#000" stroke-width="1" shape-rendering="crispEdges"/>
<line x1="65.5" y1="557.5" x2="65.5" y2="560.1" stroke="#000" stroke-width="1" shape-rendering="crispEdges"/>
<line x1="67.5" y1="557.5" x2="67.5" y2="560.1" stroke="#000" stroke-width="1" shape-rendering="crispEdges"/>
<line x1="68.5" y1="557.5" x2="68.5" y2="560.1" stroke="#000" stroke-width="1" shape-rendering="crispEdges"/>
<line x1="70.5" y1="557.5" x2="70.5" y2="560.1" stroke="#000" stroke-width="1" shape-rendering="crispEdges"/>
<line x1="71.5" y1="557.5" x2="71.5" y2="560.1" stroke="#000" stroke-width="1" shape-rendering="crispEdges"/>
<line x1="72.5" y1="557.5" x2="72.5" y2="560.1" stroke="#000" stroke-width="1" shape-rendering="crispEdges"/>
<line x1="72.5" y1="557.5" x2="72.5" y2="562.1" stroke="#000" stroke-width="1" shape-rendering="crispEdges"/>
<line x1="78.5" y1="557.5" x2="78.5" y2="560.1" stroke="#000" stroke-width="1" shape-rendering="crispEdges"/>
<line x1="81.5" y1="557.5" x2="81.5" y2="560.1" stroke="#000" stroke-width="1" shape-rendering="crispEdges"/>
<line x1="83.5" y1="557.5" x2="83.5" y2="560.1" stroke="#000" stroke-width="1" shape-rendering="crispEdges"/>
<line x1="85.5" y1="557.5" x2="85.5" y2="560.1" stroke="#000" stroke-width="1" shape-rendering="crispEdges"/>
<line x1="86.5" y1="557.5" x2="86.5" y2="560.1" stroke="#000" stroke-width="1" shape-rendering="crispEdges"/>
<line x1="87.5" y1="557.5" x2="87.5" y2="560.1" stroke="#000" stroke-width="1" shape-rendering="crispEdges"/>
<line x1="88.5" y1="557.5" x2="88.5" y2="560.1" stroke="#000" stroke-width="1" shape-rendering="crispEdges"/>
<line x1="89.5" y1="557.5" x2="89.5" y2="560.1" stroke="#000" stroke-width="1" shape-rendering="crispEdges"/>
<line x1="90.5" y1="557.5" x2="90.5" y2="562.1" stroke="#000" stroke-width="1" shape-rendering="crispEdges"/>
<line x1="95.5" y1="557.5" x2="95.5" y2="560.1" stroke="#000" stroke-width="1" shape-rendering="crispEdges"/>
<line x1="99.5" y1="557.5" x2="99.5" y2="560.1" stroke="#000" stroke-width="1" shape-rendering="crispEdges"/>
<line x1="101.5" y1="557.5" x2="101.5" y2="560.1" stroke="#000" stroke-width="1" shape-rendering="crispEdges"/>
<line x1="102.5" y1="557.5" x2="102.5" y2="560.1" stroke="#000" stroke-width="1" shape-rendering="crispEdges"/>
<line x1="104.5" y1="557.5" x2="104.5" y2="560.1" stroke="#000" stroke-width="1" shape-rendering="crispEdges"/>
<line x1="105.5" y1="557.5" x2="105.5" y2="560.1" stroke="#000" stroke-width="1" shape-rendering="crispEdges"/>
<line x1="106.5" y1="557.5" x2="106.5" y2="560.1" stroke="#000" stroke-width="1" shape-rendering="crispEdges"/>
<line x1="107.5" y1="557.5" x2="107.5" y2="560.1" stroke="#000" stroke-width="1" shape-rendering="crispEdges"/>
<line x1="108.5" y1="557.5" x2="108.5" y2="562.1" stroke="#000" stroke-width="1" shape-rendering="crispEdges"/>
<line x1="113.5" y1="557.5" x2="113.5" y2="560.1" stroke="#000" stroke-width="1" shape-rendering="crispEdges"/>
<line x1="116.5" y1="557.5" x2="116.5" y2="560.1" stroke="#000" stroke-width="1" shape-rendering="crispEdges"/>
<line x1="118.5" y1="557.5" x2="118.5" y2="560.1" stroke="#000" stroke-width="1" shape-rendering="crispEdges"/>
<line x1="120.5" y1="557.5" x2="120.5" y2="560.1" stroke="#000" stroke-width="1" shape-rendering="crispEdges"/>
<line x1="122.5" y1="557.5" x2="122.5" y2="560.1" stroke="#000" stroke-width="1" shape-rendering="crispEdges"/>
<line x1="123.5" y1="557.5" x2="123.5" y2="560.1" stroke="#000" stroke-width="1" shape-rendering="crispEdges"/>
<line x1="124.5" y1="557.5" x2="124.5" y2="560.1" stroke="#000" stroke-width="1" shape-rendering="crispEdges"/>
<line x1="125.5" y1="557.5" x2="125.5" y2="560.1" stroke="#000" stroke-width="1" shape-rendering="crispEdges"/>
<line x1="125.5" y1="557.5" x2="125.5" y2="562.1" stroke="#000" stroke-width="0.8" />
<text x="46.2" y="488.5" font-size="11" font-family='"Liberation Sans", sans-serif' text-anchor="middle" textLength="14" lengthAdjust="spacingAndGlyphs" stroke="#000" stroke-width="0.35" transform="rotate(-90 46.2 488.5)" >100</text>
<text x="45.9" y="556.6" font-size="10.8" font-family='"Liberation Sans", sans-serif' text-anchor="middle" textLength="4.6" lengthAdjust="spacingAndGlyphs" stroke="#000" stroke-width="0.35" transform="rotate(-90 45.9 556.6)" >0</text>
<text x="48.4" y="574" font-size="10.8" font-family='"Liberation Sans", sans-serif' textLength="8.6" lengthAdjust="spacingAndGlyphs" stroke="#000" stroke-width="0.35" >10</text>
<text x="58.5" y="568.5" font-size="10.8" font-family='"Liberation Sans", sans-serif' textLength="4.2" lengthAdjust="spacingAndGlyphs" stroke="#000" stroke-width="0.35" >0</text>
<text x="116.5" y="575" font-size="10.8" font-family='"Liberation Sans", sans-serif' textLength="8.8" lengthAdjust="spacingAndGlyphs" stroke="#000" stroke-width="0.35" >10</text>
<text x="127.3" y="569.5" font-size="10.8" font-family='"Liberation Sans", sans-serif' textLength="5.2" lengthAdjust="spacingAndGlyphs" stroke="#000" stroke-width="0.35" >4</text>
<polyline points="55.3,556.1 56.9,553.4 58,549.1 59,541.5 60.1,530.6 61.2,516.5 62.3,503.5 63.4,494.8 64.5,492.9 65.6,495.9 66.6,505.7 67.7,516.5 68.8,527.4 69.9,537.1 71,544.7 72.6,550.2 74.2,553.4 75.9,555 79.1,555.6 82.4,556.1 86.7,556.1 93.2,556.5" fill="none" stroke="#000" stroke-width="1" stroke-linejoin="round"/>
<line x1="77.2" y1="542.9" x2="119" y2="542.9" stroke="#000" stroke-width="1.2" />
<line x1="77.2" y1="539.9" x2="77.2" y2="545.9" stroke="#000" stroke-width="1.2" />
<line x1="119" y1="539.9" x2="119" y2="545.9" stroke="#000" stroke-width="1.2" />
<text x="91.9" y="541.7" font-size="10.6" font-family='"Liberation Serif", serif' font-weight="bold" textLength="12.7" lengthAdjust="spacingAndGlyphs" stroke="#000" stroke-width="0.3" >1.2</text>
<rect x="153.9" y="485.6" width="70.7" height="71" fill="none" stroke="#000" stroke-width="1.3" />
<line x1="149.5" y1="557.5" x2="153.9" y2="557.5" stroke="#000" stroke-width="1" shape-rendering="crispEdges"/>
<line x1="151.3" y1="554.5" x2="153.9" y2="554.5" stroke="#000" stroke-width="1" shape-rendering="crispEdges"/>
<line x1="151.3" y1="552.5" x2="153.9" y2="552.5" stroke="#000" stroke-width="1" shape-rendering="crispEdges"/>
<line x1="151.3" y1="550.5" x2="153.9" y2="550.5" stroke="#000" stroke-width="1" shape-rendering="crispEdges"/>
<line x1="151.3" y1="547.5" x2="153.9" y2="547.5" stroke="#000" stroke-width="1" shape-rendering="crispEdges"/>
<line x1="149.5" y1="545.5" x2="153.9" y2="545.5" stroke="#000" stroke-width="1" shape-rendering="crispEdges"/>
<line x1="151.3" y1="542.5" x2="153.9" y2="542.5" stroke="#000" stroke-width="1" shape-rendering="crispEdges"/>
<line x1="151.3" y1="540.5" x2="153.9" y2="540.5" stroke="#000" stroke-width="1" shape-rendering="crispEdges"/>
<line x1="151.3" y1="538.5" x2="153.9" y2="538.5" stroke="#000" stroke-width="1" shape-rendering="crispEdges"/>
<line x1="151.3" y1="535.5" x2="153.9" y2="535.5" stroke="#000" stroke-width="1" shape-rendering="crispEdges"/>
<line x1="149.5" y1="533.5" x2="153.9" y2="533.5" stroke="#000" stroke-width="1" shape-rendering="crispEdges"/>
<line x1="151.3" y1="531.5" x2="153.9" y2="531.5" stroke="#000" stroke-width="1" shape-rendering="crispEdges"/>
<line x1="151.3" y1="528.5" x2="153.9" y2="528.5" stroke="#000" stroke-width="1" shape-rendering="crispEdges"/>
<line x1="151.3" y1="526.5" x2="153.9" y2="526.5" stroke="#000" stroke-width="1" shape-rendering="crispEdges"/>
<line x1="151.3" y1="523.5" x2="153.9" y2="523.5" stroke="#000" stroke-width="1" shape-rendering="crispEdges"/>
<line x1="149.5" y1="521.5" x2="153.9" y2="521.5" stroke="#000" stroke-width="1" shape-rendering="crispEdges"/>
<line x1="151.3" y1="519.5" x2="153.9" y2="519.5" stroke="#000" stroke-width="1" shape-rendering="crispEdges"/>
<line x1="151.3" y1="516.5" x2="153.9" y2="516.5" stroke="#000" stroke-width="1" shape-rendering="crispEdges"/>
<line x1="151.3" y1="514.5" x2="153.9" y2="514.5" stroke="#000" stroke-width="1" shape-rendering="crispEdges"/>
<line x1="151.3" y1="512.5" x2="153.9" y2="512.5" stroke="#000" stroke-width="1" shape-rendering="crispEdges"/>
<line x1="149.5" y1="509.5" x2="153.9" y2="509.5" stroke="#000" stroke-width="1" shape-rendering="crispEdges"/>
<line x1="151.3" y1="507.5" x2="153.9" y2="507.5" stroke="#000" stroke-width="1" shape-rendering="crispEdges"/>
<line x1="151.3" y1="505.5" x2="153.9" y2="505.5" stroke="#000" stroke-width="1" shape-rendering="crispEdges"/>
<line x1="151.3" y1="502.5" x2="153.9" y2="502.5" stroke="#000" stroke-width="1" shape-rendering="crispEdges"/>
<line x1="151.3" y1="500.5" x2="153.9" y2="500.5" stroke="#000" stroke-width="1" shape-rendering="crispEdges"/>
<line x1="149.5" y1="497.5" x2="153.9" y2="497.5" stroke="#000" stroke-width="1" shape-rendering="crispEdges"/>
<line x1="151.3" y1="495.5" x2="153.9" y2="495.5" stroke="#000" stroke-width="1" shape-rendering="crispEdges"/>
<line x1="151.3" y1="493.5" x2="153.9" y2="493.5" stroke="#000" stroke-width="1" shape-rendering="crispEdges"/>
<line x1="151.3" y1="490.5" x2="153.9" y2="490.5" stroke="#000" stroke-width="1" shape-rendering="crispEdges"/>
<line x1="151.3" y1="488.5" x2="153.9" y2="488.5" stroke="#000" stroke-width="1" shape-rendering="crispEdges"/>
<line x1="149.5" y1="486.5" x2="153.9" y2="486.5" stroke="#000" stroke-width="1" shape-rendering="crispEdges"/>
<line x1="154.5" y1="556.6" x2="154.5" y2="561.2" stroke="#000" stroke-width="1" shape-rendering="crispEdges"/>
<line x1="159.5" y1="556.6" x2="159.5" y2="559.2" stroke="#000" stroke-width="1" shape-rendering="crispEdges"/>
<line x1="162.5" y1="556.6" x2="162.5" y2="559.2" stroke="#000" stroke-width="1" shape-rendering="crispEdges"/>
<line x1="165.5" y1="556.6" x2="165.5" y2="559.2" stroke="#000" stroke-width="1" shape-rendering="crispEdges"/>
<line x1="166.5" y1="556.6" x2="166.5" y2="559.2" stroke="#000" stroke-width="1" shape-rendering="crispEdges"/>
<line x1="168.5" y1="556.6" x2="168.5" y2="559.2" stroke="#000" stroke-width="1" shape-rendering="crispEdges"/>
<line x1="169.5" y1="556.6" x2="169.5" y2="559.2" stroke="#000" stroke-width="1" shape-rendering="crispEdges"/>
<line x1="170.5" y1="556.6" x2="170.5" y2="559.2" stroke="#000" stroke-width="1" shape-rendering="crispEdges"/>
<line x1="171.5" y1="556.6" x2="171.5" y2="559.2" stroke="#000" stroke-width="1" shape-rendering="crispEdges"/>
<line x1="172.5" y1="556.6" x2="172.5" y2="561.2" stroke="#000" stroke-width="1" shape-rendering="crispEdges"/>
<line x1="177.5" y1="556.6" x2="177.5" y2="559.2" stroke="#000" stroke-width="1" shape-rendering="crispEdges"/>
<line x1="180.5" y1="556.6" x2="180.5" y2="559.2" stroke="#000" stroke-width="1" shape-rendering="crispEdges"/>
<line x1="182.5" y1="556.6" x2="182.5" y2="559.2" stroke="#000" stroke-width="1" shape-rendering="crispEdges"/>
<line x1="184.5" y1="556.6" x2="184.5" y2="559.2" stroke="#000" stroke-width="1" shape-rendering="crispEdges"/>
<line x1="185.5" y1="556.6" x2="185.5" y2="559.2" stroke="#000" stroke-width="1" shape-rendering="crispEdges"/>
<line x1="187.5" y1="556.6" x2="187.5" y2="559.2" stroke="#000" stroke-width="1" shape-rendering="crispEdges"/>
<line x1="188.5" y1="556.6" x2="188.5" y2="559.2" stroke="#000" stroke-width="1" shape-rendering="crispEdges"/>
<line x1="188.5" y1="556.6" x2="188.5" y2="559.2" stroke="#000" stroke-width="1" shape-rendering="crispEdges"/>
<line x1="189.5" y1="556.6" x2="189.5" y2="561.2" stroke="#000" stroke-width="1" shape-rendering="crispEdges"/>
<line x1="195.5" y1="556.6" x2="195.5" y2="559.2" stroke="#000" stroke-width="1" shape-rendering="crispEdges"/>
<line x1="198.5" y1="556.6" x2="198.5" y2="559.2" stroke="#000" stroke-width="1" shape-rendering="crispEdges"/>
<line x1="200.5" y1="556.6" x2="200.5" y2="559.2" stroke="#000" stroke-width="1" shape-rendering="crispEdges"/>
<line x1="202.5" y1="556.6" x2="202.5" y2="559.2" stroke="#000" stroke-width="1" shape-rendering="crispEdges"/>
<line x1="203.5" y1="556.6" x2="203.5" y2="559.2" stroke="#000" stroke-width="1" shape-rendering="crispEdges"/>
<line x1="204.5" y1="556.6" x2="204.5" y2="559.2" stroke="#000" stroke-width="1" shape-rendering="crispEdges"/>
<line x1="205.5" y1="556.6" x2="205.5" y2="559.2" stroke="#000" stroke-width="1" shape-rendering="crispEdges"/>
<line x1="206.5" y1="556.6" x2="206.5" y2="559.2" stroke="#000" stroke-width="1" shape-rendering="crispEdges"/>
<line x1="207.5" y1="556.6" x2="207.5" y2="561.2" stroke="#000" stroke-width="1" shape-rendering="crispEdges"/>
<line x1="212.5" y1="556.6" x2="212.5" y2="559.2" stroke="#000" stroke-width="1" shape-rendering="crispEdges"/>
<line x1="215.5" y1="556.6" x2="215.5" y2="559.2" stroke="#000" stroke-width="1" shape-rendering="crispEdges"/>
<line x1="218.5" y1="556.6" x2="218.5" y2="559.2" stroke="#000" stroke-width="1" shape-rendering="crispEdges"/>
<line x1="219.5" y1="556.6" x2="219.5" y2="559.2" stroke="#000" stroke-width="1" shape-rendering="crispEdges"/>
<line x1="221.5" y1="556.6" x2="221.5" y2="559.2" stroke="#000" stroke-width="1" shape-rendering="crispEdges"/>
<line x1="222.5" y1="556.6" x2="222.5" y2="559.2" stroke="#000" stroke-width="1" shape-rendering="crispEdges"/>
<line x1="223.5" y1="556.6" x2="223.5" y2="559.2" stroke="#000" stroke-width="1" shape-rendering="crispEdges"/>
<line x1="224.5" y1="556.6" x2="224.5" y2="559.2" stroke="#000" stroke-width="1" shape-rendering="crispEdges"/>
<line x1="224.6" y1="556.6" x2="224.6" y2="561.2" stroke="#000" stroke-width="0.8" />
<text x="145.2" y="491.4" font-size="11" font-family='"Liberation Sans", sans-serif' text-anchor="middle" textLength="14" lengthAdjust="spacingAndGlyphs" stroke="#000" stroke-width="0.35" transform="rotate(-90 145.2 491.4)" >100</text>
<text x="145.1" y="555.7" font-size="10.8" font-family='"Liberation Sans", sans-serif' text-anchor="middle" textLength="4.6" lengthAdjust="spacingAndGlyphs" stroke="#000" stroke-width="0.35" transform="rotate(-90 145.1 555.7)" >0</text>
<text x="147.6" y="573.1" font-size="10.8" font-family='"Liberation Sans", sans-serif' textLength="8.6" lengthAdjust="spacingAndGlyphs" stroke="#000" stroke-width="0.35" >10</text>
<text x="157.7" y="567.6" font-size="10.8" font-family='"Liberation Sans", sans-serif' textLength="4.2" lengthAdjust="spacingAndGlyphs" stroke="#000" stroke-width="0.35" >0</text>
<text x="215.6" y="574.1" font-size="10.8" font-family='"Liberation Sans", sans-serif' textLength="8.8" lengthAdjust="spacingAndGlyphs" stroke="#000" stroke-width="0.35" >10</text>
<text x="226.4" y="568.6" font-size="10.8" font-family='"Liberation Sans", sans-serif' textLength="5.2" lengthAdjust="spacingAndGlyphs" stroke="#000" stroke-width="0.35" >4</text>
<polyline points="154.7,555 156.3,555.6 158,554 159.6,550.2 160.7,544.7 161.8,535 162.8,524.1 163.9,513.3 165,502.4 166.1,493.8 167.2,488.3 168.3,489.4 169.4,493.8 170.4,503.5 171.5,514.4 172.6,525.2 173.7,535 174.8,542.6 175.9,548 177.5,551.8 179.7,554 182.4,555.6 186.7,556.1 193.2,556.5 199.7,556.7" fill="none" stroke="#000" stroke-width="1" stroke-linejoin="round"/>
<line x1="176.3" y1="544" x2="219" y2="544" stroke="#000" stroke-width="1.2" />
<line x1="176.3" y1="541" x2="176.3" y2="547" stroke="#000" stroke-width="1.2" />
<line x1="219" y1="541" x2="219" y2="547" stroke="#000" stroke-width="1.2" />
<text x="190.5" y="540.9" font-size="10.6" font-family='"Liberation Serif", serif' font-weight="bold" textLength="13.9" lengthAdjust="spacingAndGlyphs" stroke="#000" stroke-width="0.3" >3.9</text>
<rect x="55.7" y="596.5" width="71.3" height="70.3" fill="none" stroke="#000" stroke-width="1.3" />
<line x1="51.3" y1="667.5" x2="55.7" y2="667.5" stroke="#000" stroke-width="1" shape-rendering="crispEdges"/>
<line x1="53.1" y1="664.5" x2="55.7" y2="664.5" stroke="#000" stroke-width="1" shape-rendering="crispEdges"/>
<line x1="53.1" y1="662.5" x2="55.7" y2="662.5" stroke="#000" stroke-width="1" shape-rendering="crispEdges"/>
<line x1="53.1" y1="660.5" x2="55.7" y2="660.5" stroke="#000" stroke-width="1" shape-rendering="crispEdges"/>
<line x1="53.1" y1="657.5" x2="55.7" y2="657.5" stroke="#000" stroke-width="1" shape-rendering="crispEdges"/>
<line x1="51.3" y1="655.5" x2="55.7" y2="655.5" stroke="#000" stroke-width="1" shape-rendering="crispEdges"/>
<line x1="53.1" y1="653.5" x2="55.7" y2="653.5" stroke="#000" stroke-width="1" shape-rendering="crispEdges"/>
<line x1="53.1" y1="650.5" x2="55.7" y2="650.5" stroke="#000" stroke-width="1" shape-rendering="crispEdges"/>
<line x1="53.1" y1="648.5" x2="55.7" y2="648.5" stroke="#000" stroke-width="1" shape-rendering="crispEdges"/>
<line x1="53.1" y1="646.5" x2="55.7" y2="646.5" stroke="#000" stroke-width="1" shape-rendering="crispEdges"/>
<line x1="51.3" y1="643.5" x2="55.7" y2="643.5" stroke="#000" stroke-width="1" shape-rendering="crispEdges"/>
<line x1="53.1" y1="641.5" x2="55.7" y2="641.5" stroke="#000" stroke-width="1" shape-rendering="crispEdges"/>
<line x1="53.1" y1="639.5" x2="55.7" y2="639.5" stroke="#000" stroke-width="1" shape-rendering="crispEdges"/>
<line x1="53.1" y1="636.5" x2="55.7" y2="636.5" stroke="#000" stroke-width="1" shape-rendering="crispEdges"/>
<line x1="53.1" y1="634.5" x2="55.7" y2="634.5" stroke="#000" stroke-width="1" shape-rendering="crispEdges"/>
<line x1="51.3" y1="632.5" x2="55.7" y2="632.5" stroke="#000" stroke-width="1" shape-rendering="crispEdges"/>
<line x1="53.1" y1="629.5" x2="55.7" y2="629.5" stroke="#000" stroke-width="1" shape-rendering="crispEdges"/>
<line x1="53.1" y1="627.5" x2="55.7" y2="627.5" stroke="#000" stroke-width="1" shape-rendering="crispEdges"/>
<line x1="53.1" y1="625.5" x2="55.7" y2="625.5" stroke="#000" stroke-width="1" shape-rendering="crispEdges"/>
<line x1="53.1" y1="622.5" x2="55.7" y2="622.5" stroke="#000" stroke-width="1" shape-rendering="crispEdges"/>
<line x1="51.3" y1="620.5" x2="55.7" y2="620.5" stroke="#000" stroke-width="1" shape-rendering="crispEdges"/>
<line x1="53.1" y1="618.5" x2="55.7" y2="618.5" stroke="#000" stroke-width="1" shape-rendering="crispEdges"/>
<line x1="53.1" y1="615.5" x2="55.7" y2="615.5" stroke="#000" stroke-width="1" shape-rendering="crispEdges"/>
<line x1="53.1" y1="613.5" x2="55.7" y2="613.5" stroke="#000" stroke-width="1" shape-rendering="crispEdges"/>
<line x1="53.1" y1="611.5" x2="55.7" y2="611.5" stroke="#000" stroke-width="1" shape-rendering="crispEdges"/>
<line x1="51.3" y1="608.5" x2="55.7" y2="608.5" stroke="#000" stroke-width="1" shape-rendering="crispEdges"/>
<line x1="53.1" y1="606.5" x2="55.7" y2="606.5" stroke="#000" stroke-width="1" shape-rendering="crispEdges"/>
<line x1="53.1" y1="604.5" x2="55.7" y2="604.5" stroke="#000" stroke-width="1" shape-rendering="crispEdges"/>
<line x1="53.1" y1="601.5" x2="55.7" y2="601.5" stroke="#000" stroke-width="1" shape-rendering="crispEdges"/>
<line x1="53.1" y1="599.5" x2="55.7" y2="599.5" stroke="#000" stroke-width="1" shape-rendering="crispEdges"/>
<line x1="51.3" y1="596.5" x2="55.7" y2="596.5" stroke="#000" stroke-width="1" shape-rendering="crispEdges"/>
<line x1="56.5" y1="666.8" x2="56.5" y2="671.4" stroke="#000" stroke-width="1" shape-rendering="crispEdges"/>
<line x1="61.5" y1="666.8" x2="61.5" y2="669.4" stroke="#000" stroke-width="1" shape-rendering="crispEdges"/>
<line x1="64.5" y1="666.8" x2="64.5" y2="669.4" stroke="#000" stroke-width="1" shape-rendering="crispEdges"/>
<line x1="66.5" y1="666.8" x2="66.5" y2="669.4" stroke="#000" stroke-width="1" shape-rendering="crispEdges"/>
<line x1="68.5" y1="666.8" x2="68.5" y2="669.4" stroke="#000" stroke-width="1" shape-rendering="crispEdges"/>
<line x1="70.5" y1="666.8" x2="70.5" y2="669.4" stroke="#000" stroke-width="1" shape-rendering="crispEdges"/>
<line x1="71.5" y1="666.8" x2="71.5" y2="669.4" stroke="#000" stroke-width="1" shape-rendering="crispEdges"/>
<line x1="72.5" y1="666.8" x2="72.5" y2="669.4" stroke="#000" stroke-width="1" shape-rendering="crispEdges"/>
<line x1="73.5" y1="666.8" x2="73.5" y2="669.4" stroke="#000" stroke-width="1" shape-rendering="crispEdges"/>
<line x1="74.5" y1="666.8" x2="74.5" y2="671.4" stroke="#000" stroke-width="1" shape-rendering="crispEdges"/>
<line x1="79.5" y1="666.8" x2="79.5" y2="669.4" stroke="#000" stroke-width="1" shape-rendering="crispEdges"/>
<line x1="82.5" y1="666.8" x2="82.5" y2="669.4" stroke="#000" stroke-width="1" shape-rendering="crispEdges"/>
<line x1="84.5" y1="666.8" x2="84.5" y2="669.4" stroke="#000" stroke-width="1" shape-rendering="crispEdges"/>
<line x1="86.5" y1="666.8" x2="86.5" y2="669.4" stroke="#000" stroke-width="1" shape-rendering="crispEdges"/>
<line x1="87.5" y1="666.8" x2="87.5" y2="669.4" stroke="#000" stroke-width="1" shape-rendering="crispEdges"/>
<line x1="89.5" y1="666.8" x2="89.5" y2="669.4" stroke="#000" stroke-width="1" shape-rendering="crispEdges"/>
<line x1="90.5" y1="666.8" x2="90.5" y2="669.4" stroke="#000" stroke-width="1" shape-rendering="crispEdges"/>
<line x1="91.5" y1="666.8" x2="91.5" y2="669.4" stroke="#000" stroke-width="1" shape-rendering="crispEdges"/>
<line x1="91.5" y1="666.8" x2="91.5" y2="671.4" stroke="#000" stroke-width="1" shape-rendering="crispEdges"/>
<line x1="97.5" y1="666.8" x2="97.5" y2="669.4" stroke="#000" stroke-width="1" shape-rendering="crispEdges"/>
<line x1="100.5" y1="666.8" x2="100.5" y2="669.4" stroke="#000" stroke-width="1" shape-rendering="crispEdges"/>
<line x1="102.5" y1="666.8" x2="102.5" y2="669.4" stroke="#000" stroke-width="1" shape-rendering="crispEdges"/>
<line x1="104.5" y1="666.8" x2="104.5" y2="669.4" stroke="#000" stroke-width="1" shape-rendering="crispEdges"/>
<line x1="105.5" y1="666.8" x2="105.5" y2="669.4" stroke="#000" stroke-width="1" shape-rendering="crispEdges"/>
<line x1="106.5" y1="666.8" x2="106.5" y2="669.4" stroke="#000" stroke-width="1" shape-rendering="crispEdges"/>
<line x1="107.5" y1="666.8" x2="107.5" y2="669.4" stroke="#000" stroke-width="1" shape-rendering="crispEdges"/>
<line x1="108.5" y1="666.8" x2="108.5" y2="669.4" stroke="#000" stroke-width="1" shape-rendering="crispEdges"/>
<line x1="109.5" y1="666.8" x2="109.5" y2="671.4" stroke="#000" stroke-width="1" shape-rendering="crispEdges"/>
<line x1="115.5" y1="666.8" x2="115.5" y2="669.4" stroke="#000" stroke-width="1" shape-rendering="crispEdges"/>
<line x1="118.5" y1="666.8" x2="118.5" y2="669.4" stroke="#000" stroke-width="1" shape-rendering="crispEdges"/>
<line x1="120.5" y1="666.8" x2="120.5" y2="669.4" stroke="#000" stroke-width="1" shape-rendering="crispEdges"/>
<line x1="122.5" y1="666.8" x2="122.5" y2="669.4" stroke="#000" stroke-width="1" shape-rendering="crispEdges"/>
<line x1="123.5" y1="666.8" x2="123.5" y2="669.4" stroke="#000" stroke-width="1" shape-rendering="crispEdges"/>
<line x1="124.5" y1="666.8" x2="124.5" y2="669.4" stroke="#000" stroke-width="1" shape-rendering="crispEdges"/>
<line x1="125.5" y1="666.8" x2="125.5" y2="669.4" stroke="#000" stroke-width="1" shape-rendering="crispEdges"/>
<line x1="126.5" y1="666.8" x2="126.5" y2="669.4" stroke="#000" stroke-width="1" shape-rendering="crispEdges"/>
<line x1="127" y1="666.8" x2="127" y2="671.4" stroke="#000" stroke-width="0.8" />
<text x="47.9" y="596.5" font-size="11" font-family='"Liberation Sans", sans-serif' text-anchor="middle" textLength="14" lengthAdjust="spacingAndGlyphs" stroke="#000" stroke-width="0.35" transform="rotate(-90 47.9 596.5)" >100</text>
<text x="46.9" y="665.9" font-size="10.8" font-family='"Liberation Sans", sans-serif' text-anchor="middle" textLength="4.6" lengthAdjust="spacingAndGlyphs" stroke="#000" stroke-width="0.35" transform="rotate(-90 46.9 665.9)" >0</text>
<text x="49.4" y="683.3" font-size="10.8" font-family='"Liberation Sans", sans-serif' textLength="8.6" lengthAdjust="spacingAndGlyphs" stroke="#000" stroke-width="0.35" >10</text>
<text x="59.5" y="677.8" font-size="10.8" font-family='"Liberation Sans", sans-serif' textLength="4.2" lengthAdjust="spacingAndGlyphs" stroke="#000" stroke-width="0.35" >0</text>
<text x="118" y="684.3" font-size="10.8" font-family='"Liberation Sans", sans-serif' textLength="8.8" lengthAdjust="spacingAndGlyphs" stroke="#000" stroke-width="0.35" >10</text>
<text x="128.8" y="678.8" font-size="10.8" font-family='"Liberation Sans", sans-serif' textLength="5.2" lengthAdjust="spacingAndGlyphs" stroke="#000" stroke-width="0.35" >4</text>
<polyline points="56,663.3 57.4,664.7 59.4,662 61.4,655.3 62.7,645.8 64.1,632.4 65.4,618.9 66.8,608.2 68.1,598.7 69.1,597.4 70.2,601.4 70.8,605.5 71.5,610.8 72.6,616.2 73.5,625.6 74.9,632.4 76.2,637.8 77.6,639.8 78.9,640.5 80.2,641.8 81.6,643.1 82.9,645.8 84.3,648.5 85.6,649.9 87,651.2 88.3,655.3 90.3,660.6 92.4,663.3 94.4,665.4 97.1,665.8 101.1,665.4 105.1,665.8 110,666.5" fill="none" stroke="#000" stroke-width="1" stroke-linejoin="round"/>
<line x1="78.1" y1="649.6" x2="120.2" y2="649.6" stroke="#000" stroke-width="1.2" />
<line x1="78.1" y1="646.6" x2="78.1" y2="652.6" stroke="#000" stroke-width="1.2" />
<line x1="120.2" y1="646.6" x2="120.2" y2="652.6" stroke="#000" stroke-width="1.2" />
<text x="93.7" y="646.2" font-size="10.6" font-family='"Liberation Serif", serif' font-weight="bold" textLength="19" lengthAdjust="spacingAndGlyphs" stroke="#000" stroke-width="0.3" >23.8</text>
<rect x="154" y="596.9" width="71.3" height="70.1" fill="none" stroke="#000" stroke-width="1.3" />
<line x1="149.6" y1="667.5" x2="154" y2="667.5" stroke="#000" stroke-width="1" shape-rendering="crispEdges"/>
<line x1="151.4" y1="665.5" x2="154" y2="665.5" stroke="#000" stroke-width="1" shape-rendering="crispEdges"/>
<line x1="151.4" y1="662.5" x2="154" y2="662.5" stroke="#000" stroke-width="1" shape-rendering="crispEdges"/>
<line x1="151.4" y1="660.5" x2="154" y2="660.5" stroke="#000" stroke-width="1" shape-rendering="crispEdges"/>
<line x1="151.4" y1="658.5" x2="154" y2="658.5" stroke="#000" stroke-width="1" shape-rendering="crispEdges"/>
<line x1="149.6" y1="655.5" x2="154" y2="655.5" stroke="#000" stroke-width="1" shape-rendering="crispEdges"/>
<line x1="151.4" y1="653.5" x2="154" y2="653.5" stroke="#000" stroke-width="1" shape-rendering="crispEdges"/>
<line x1="151.4" y1="651.5" x2="154" y2="651.5" stroke="#000" stroke-width="1" shape-rendering="crispEdges"/>
<line x1="151.4" y1="648.5" x2="154" y2="648.5" stroke="#000" stroke-width="1" shape-rendering="crispEdges"/>
<line x1="151.4" y1="646.5" x2="154" y2="646.5" stroke="#000" stroke-width="1" shape-rendering="crispEdges"/>
<line x1="149.6" y1="644.5" x2="154" y2="644.5" stroke="#000" stroke-width="1" shape-rendering="crispEdges"/>
<line x1="151.4" y1="641.5" x2="154" y2="641.5" stroke="#000" stroke-width="1" shape-rendering="crispEdges"/>
<line x1="151.4" y1="639.5" x2="154" y2="639.5" stroke="#000" stroke-width="1" shape-rendering="crispEdges"/>
<line x1="151.4" y1="637.5" x2="154" y2="637.5" stroke="#000" stroke-width="1" shape-rendering="crispEdges"/>
<line x1="151.4" y1="634.5" x2="154" y2="634.5" stroke="#000" stroke-width="1" shape-rendering="crispEdges"/>
<line x1="149.6" y1="632.5" x2="154" y2="632.5" stroke="#000" stroke-width="1" shape-rendering="crispEdges"/>
<line x1="151.4" y1="630.5" x2="154" y2="630.5" stroke="#000" stroke-width="1" shape-rendering="crispEdges"/>
<line x1="151.4" y1="627.5" x2="154" y2="627.5" stroke="#000" stroke-width="1" shape-rendering="crispEdges"/>
<line x1="151.4" y1="625.5" x2="154" y2="625.5" stroke="#000" stroke-width="1" shape-rendering="crispEdges"/>
<line x1="151.4" y1="623.5" x2="154" y2="623.5" stroke="#000" stroke-width="1" shape-rendering="crispEdges"/>
<line x1="149.6" y1="620.5" x2="154" y2="620.5" stroke="#000" stroke-width="1" shape-rendering="crispEdges"/>
<line x1="151.4" y1="618.5" x2="154" y2="618.5" stroke="#000" stroke-width="1" shape-rendering="crispEdges"/>
<line x1="151.4" y1="616.5" x2="154" y2="616.5" stroke="#000" stroke-width="1" shape-rendering="crispEdges"/>
<line x1="151.4" y1="613.5" x2="154" y2="613.5" stroke="#000" stroke-width="1" shape-rendering="crispEdges"/>
<line x1="151.4" y1="611.5" x2="154" y2="611.5" stroke="#000" stroke-width="1" shape-rendering="crispEdges"/>
<line x1="149.6" y1="609.5" x2="154" y2="609.5" stroke="#000" stroke-width="1" shape-rendering="crispEdges"/>
<line x1="151.4" y1="606.5" x2="154" y2="606.5" stroke="#000" stroke-width="1" shape-rendering="crispEdges"/>
<line x1="151.4" y1="604.5" x2="154" y2="604.5" stroke="#000" stroke-width="1" shape-rendering="crispEdges"/>
<line x1="151.4" y1="602.5" x2="154" y2="602.5" stroke="#000" stroke-width="1" shape-rendering="crispEdges"/>
<line x1="151.4" y1="599.5" x2="154" y2="599.5" stroke="#000" stroke-width="1" shape-rendering="crispEdges"/>
<line x1="149.6" y1="597.5" x2="154" y2="597.5" stroke="#000" stroke-width="1" shape-rendering="crispEdges"/>
<line x1="154.5" y1="667" x2="154.5" y2="671.6" stroke="#000" stroke-width="1" shape-rendering="crispEdges"/>
<line x1="159.5" y1="667" x2="159.5" y2="669.6" stroke="#000" stroke-width="1" shape-rendering="crispEdges"/>
<line x1="163.5" y1="667" x2="163.5" y2="669.6" stroke="#000" stroke-width="1" shape-rendering="crispEdges"/>
<line x1="165.5" y1="667" x2="165.5" y2="669.6" stroke="#000" stroke-width="1" shape-rendering="crispEdges"/>
<line x1="166.5" y1="667" x2="166.5" y2="669.6" stroke="#000" stroke-width="1" shape-rendering="crispEdges"/>
<line x1="168.5" y1="667" x2="168.5" y2="669.6" stroke="#000" stroke-width="1" shape-rendering="crispEdges"/>
<line x1="169.5" y1="667" x2="169.5" y2="669.6" stroke="#000" stroke-width="1" shape-rendering="crispEdges"/>
<line x1="170.5" y1="667" x2="170.5" y2="669.6" stroke="#000" stroke-width="1" shape-rendering="crispEdges"/>
<line x1="171.5" y1="667" x2="171.5" y2="669.6" stroke="#000" stroke-width="1" shape-rendering="crispEdges"/>
<line x1="172.5" y1="667" x2="172.5" y2="671.6" stroke="#000" stroke-width="1" shape-rendering="crispEdges"/>
<line x1="177.5" y1="667" x2="177.5" y2="669.6" stroke="#000" stroke-width="1" shape-rendering="crispEdges"/>
<line x1="180.5" y1="667" x2="180.5" y2="669.6" stroke="#000" stroke-width="1" shape-rendering="crispEdges"/>
<line x1="183.5" y1="667" x2="183.5" y2="669.6" stroke="#000" stroke-width="1" shape-rendering="crispEdges"/>
<line x1="184.5" y1="667" x2="184.5" y2="669.6" stroke="#000" stroke-width="1" shape-rendering="crispEdges"/>
<line x1="186.5" y1="667" x2="186.5" y2="669.6" stroke="#000" stroke-width="1" shape-rendering="crispEdges"/>
<line x1="187.5" y1="667" x2="187.5" y2="669.6" stroke="#000" stroke-width="1" shape-rendering="crispEdges"/>
<line x1="188.5" y1="667" x2="188.5" y2="669.6" stroke="#000" stroke-width="1" shape-rendering="crispEdges"/>
<line x1="189.5" y1="667" x2="189.5" y2="669.6" stroke="#000" stroke-width="1" shape-rendering="crispEdges"/>
<line x1="190.5" y1="667" x2="190.5" y2="671.6" stroke="#000" stroke-width="1" shape-rendering="crispEdges"/>
<line x1="195.5" y1="667" x2="195.5" y2="669.6" stroke="#000" stroke-width="1" shape-rendering="crispEdges"/>
<line x1="198.5" y1="667" x2="198.5" y2="669.6" stroke="#000" stroke-width="1" shape-rendering="crispEdges"/>
<line x1="200.5" y1="667" x2="200.5" y2="669.6" stroke="#000" stroke-width="1" shape-rendering="crispEdges"/>
<line x1="202.5" y1="667" x2="202.5" y2="669.6" stroke="#000" stroke-width="1" shape-rendering="crispEdges"/>
<line x1="204.5" y1="667" x2="204.5" y2="669.6" stroke="#000" stroke-width="1" shape-rendering="crispEdges"/>
<line x1="205.5" y1="667" x2="205.5" y2="669.6" stroke="#000" stroke-width="1" shape-rendering="crispEdges"/>
<line x1="206.5" y1="667" x2="206.5" y2="669.6" stroke="#000" stroke-width="1" shape-rendering="crispEdges"/>
<line x1="207.5" y1="667" x2="207.5" y2="669.6" stroke="#000" stroke-width="1" shape-rendering="crispEdges"/>
<line x1="207.5" y1="667" x2="207.5" y2="671.6" stroke="#000" stroke-width="1" shape-rendering="crispEdges"/>
<line x1="213.5" y1="667" x2="213.5" y2="669.6" stroke="#000" stroke-width="1" shape-rendering="crispEdges"/>
<line x1="216.5" y1="667" x2="216.5" y2="669.6" stroke="#000" stroke-width="1" shape-rendering="crispEdges"/>
<line x1="218.5" y1="667" x2="218.5" y2="669.6" stroke="#000" stroke-width="1" shape-rendering="crispEdges"/>
<line x1="220.5" y1="667" x2="220.5" y2="669.6" stroke="#000" stroke-width="1" shape-rendering="crispEdges"/>
<line x1="221.5" y1="667" x2="221.5" y2="669.6" stroke="#000" stroke-width="1" shape-rendering="crispEdges"/>
<line x1="223.5" y1="667" x2="223.5" y2="669.6" stroke="#000" stroke-width="1" shape-rendering="crispEdges"/>
<line x1="224.5" y1="667" x2="224.5" y2="669.6" stroke="#000" stroke-width="1" shape-rendering="crispEdges"/>
<line x1="224.5" y1="667" x2="224.5" y2="669.6" stroke="#000" stroke-width="1" shape-rendering="crispEdges"/>
<line x1="225.3" y1="667" x2="225.3" y2="671.6" stroke="#000" stroke-width="0.8" />
<text x="145.9" y="596.9" font-size="11" font-family='"Liberation Sans", sans-serif' text-anchor="middle" textLength="14" lengthAdjust="spacingAndGlyphs" stroke="#000" stroke-width="0.35" transform="rotate(-90 145.9 596.9)" >100</text>
<text x="145.2" y="666.1" font-size="10.8" font-family='"Liberation Sans", sans-serif' text-anchor="middle" textLength="4.6" lengthAdjust="spacingAndGlyphs" stroke="#000" stroke-width="0.35" transform="rotate(-90 145.2 666.1)" >0</text>
<text x="147.7" y="683.5" font-size="10.8" font-family='"Liberation Sans", sans-serif' textLength="8.6" lengthAdjust="spacingAndGlyphs" stroke="#000" stroke-width="0.35" >10</text>
<text x="157.8" y="678" font-size="10.8" font-family='"Liberation Sans", sans-serif' textLength="4.2" lengthAdjust="spacingAndGlyphs" stroke="#000" stroke-width="0.35" >0</text>
<text x="216.3" y="684.5" font-size="10.8" font-family='"Liberation Sans", sans-serif' textLength="8.8" lengthAdjust="spacingAndGlyphs" stroke="#000" stroke-width="0.35" >10</text>
<text x="227.1" y="679" font-size="10.8" font-family='"Liberation Sans", sans-serif' textLength="5.2" lengthAdjust="spacingAndGlyphs" stroke="#000" stroke-width="0.35" >4</text>
<polyline points="154.7,660.1 156.7,660.8 158.1,662.8 160.1,662.4 162.8,662.1 164.1,658.1 164.8,650 165.5,641.9 166.5,632.5 167.5,627.1 168.6,622.4 170.2,625.8 171.5,628.5 172.9,631.2 174.2,633.8 175.6,635.2 176.2,639.2 176.9,643.9 177.6,647.3 178.9,648.6 180.9,649.3 183.6,649.7 185,654 186.3,656.7 188.3,658.1 190.4,660.1 192.4,660.8 195.1,660.8 197.8,661.4 199.1,663.5 201.1,665.1 203.8,665.9 207.2,666.3" fill="none" stroke="#000" stroke-width="1" stroke-linejoin="round"/>
<line x1="177.5" y1="650.2" x2="219.5" y2="650.2" stroke="#000" stroke-width="1.2" />
<line x1="177.5" y1="647.2" x2="177.5" y2="653.2" stroke="#000" stroke-width="1.2" />
<line x1="219.5" y1="647.2" x2="219.5" y2="653.2" stroke="#000" stroke-width="1.2" />
<text x="189.4" y="645.2" font-size="10.6" font-family='"Liberation Serif", serif' font-weight="bold" textLength="19.3" lengthAdjust="spacingAndGlyphs" stroke="#000" stroke-width="0.3" >33.6</text>
<line x1="71.6" y1="606.8" x2="71.6" y2="614.9" stroke="#000" stroke-width="1.8" />
<line x1="67.3" y1="600" x2="68.6" y2="612" stroke="#888" stroke-width="1.2" />
<text x="64.1" y="481.5" font-size="11" font-family='"Liberation Serif", serif' font-weight="bold" textLength="46.3" lengthAdjust="spacingAndGlyphs" stroke="#000" stroke-width="0.3" >Untreated</text>
<text x="0" y="0" font-size="11" font-family='"Liberation Serif", serif' font-weight="bold" stroke="#000" stroke-width="0.3" transform="translate(174.8 478.8) scale(1.0020 1)">H<tspan font-size="7.04" dy="3.3">2</tspan><tspan dy="-3.3">O</tspan><tspan font-size="7.04" dy="3.3">2</tspan><tspan dy="-3.3"></tspan></text>
<text x="54.4" y="590.2" font-size="11" font-family='"Liberation Serif", serif' font-weight="bold" textLength="61.9" lengthAdjust="spacingAndGlyphs" stroke="#000" stroke-width="0.3" >Anti-RLIP76</text>
<text x="0" y="0" font-size="11" font-family='"Liberation Serif", serif' font-weight="bold" stroke="#000" stroke-width="0.3" transform="translate(139.8 588.3) scale(1.0042 1)">H<tspan font-size="7.04" dy="3.3">2</tspan><tspan dy="-3.3">O</tspan><tspan font-size="7.04" dy="3.3">2</tspan><tspan dy="-3.3"> + anti-RLIP76</tspan></text>
<text x="32.6" y="577.7" font-size="12" font-family='"Liberation Serif", serif' font-weight="bold" text-anchor="middle" textLength="37.4" lengthAdjust="spacingAndGlyphs" stroke="#000" stroke-width="0.3" transform="rotate(-90 32.6 577.7)" >Counts</text>
<text x="89.2" y="697.4" font-size="12" font-family='"Liberation Serif", serif' font-weight="bold" textLength="99.3" lengthAdjust="spacingAndGlyphs" stroke="#000" stroke-width="0.3" >JNK(pT183/pY185)</text>
<text x="269.2" y="490.3" font-size="16.5" font-family='"Liberation Sans", sans-serif' font-weight="bold" textLength="11" lengthAdjust="spacingAndGlyphs" >E</text>
<line x1="303.9" y1="512.6" x2="303.9" y2="669.8" stroke="#000" stroke-width="1.3" />
<line x1="303.3" y1="669.3" x2="519.5" y2="669.3" stroke="#000" stroke-width="1.3" />
<text x="301.4" y="673.6" font-size="12.3" font-family='"Liberation Serif", serif' font-weight="bold" text-anchor="end" textLength="6.3" lengthAdjust="spacingAndGlyphs" stroke="#000" stroke-width="0.3" >0</text>
<line x1="303.9" y1="659.52" x2="306.8" y2="659.52" stroke="#000" stroke-width="1.2" />
<line x1="303.9" y1="649.75" x2="308.5" y2="649.75" stroke="#000" stroke-width="1.2" />
<text x="301.4" y="654.05" font-size="12.3" font-family='"Liberation Serif", serif' font-weight="bold" text-anchor="end" textLength="6.3" lengthAdjust="spacingAndGlyphs" stroke="#000" stroke-width="0.3" >5</text>
<line x1="303.9" y1="639.97" x2="306.8" y2="639.97" stroke="#000" stroke-width="1.2" />
<line x1="303.9" y1="630.2" x2="308.5" y2="630.2" stroke="#000" stroke-width="1.2" />
<text x="301.4" y="634.5" font-size="12.3" font-family='"Liberation Serif", serif' font-weight="bold" text-anchor="end" textLength="12.6" lengthAdjust="spacingAndGlyphs" stroke="#000" stroke-width="0.3" >10</text>
<line x1="303.9" y1="620.42" x2="306.8" y2="620.42" stroke="#000" stroke-width="1.2" />
<line x1="303.9" y1="610.65" x2="308.5" y2="610.65" stroke="#000" stroke-width="1.2" />
<text x="301.4" y="614.95" font-size="12.3" font-family='"Liberation Serif", serif' font-weight="bold" text-anchor="end" textLength="12.6" lengthAdjust="spacingAndGlyphs" stroke="#000" stroke-width="0.3" >15</text>
<line x1="303.9" y1="600.88" x2="306.8" y2="600.88" stroke="#000" stroke-width="1.2" />
<line x1="303.9" y1="591.1" x2="308.5" y2="591.1" stroke="#000" stroke-width="1.2" />
<text x="301.4" y="595.4" font-size="12.3" font-family='"Liberation Serif", serif' font-weight="bold" text-anchor="end" textLength="12.6" lengthAdjust="spacingAndGlyphs" stroke="#000" stroke-width="0.3" >20</text>
<line x1="303.9" y1="581.32" x2="306.8" y2="581.32" stroke="#000" stroke-width="1.2" />
<line x1="303.9" y1="571.55" x2="308.5" y2="571.55" stroke="#000" stroke-width="1.2" />
<text x="301.4" y="575.85" font-size="12.3" font-family='"Liberation Serif", serif' font-weight="bold" text-anchor="end" textLength="12.6" lengthAdjust="spacingAndGlyphs" stroke="#000" stroke-width="0.3" >25</text>
<line x1="303.9" y1="561.77" x2="306.8" y2="561.77" stroke="#000" stroke-width="1.2" />
<line x1="303.9" y1="552" x2="308.5" y2="552" stroke="#000" stroke-width="1.2" />
<text x="301.4" y="556.3" font-size="12.3" font-family='"Liberation Serif", serif' font-weight="bold" text-anchor="end" textLength="12.6" lengthAdjust="spacingAndGlyphs" stroke="#000" stroke-width="0.3" >30</text>
<line x1="303.9" y1="542.23" x2="306.8" y2="542.23" stroke="#000" stroke-width="1.2" />
<line x1="303.9" y1="532.45" x2="308.5" y2="532.45" stroke="#000" stroke-width="1.2" />
<text x="301.4" y="536.75" font-size="12.3" font-family='"Liberation Serif", serif' font-weight="bold" text-anchor="end" textLength="12.6" lengthAdjust="spacingAndGlyphs" stroke="#000" stroke-width="0.3" >35</text>
<line x1="303.9" y1="522.67" x2="306.8" y2="522.67" stroke="#000" stroke-width="1.2" />
<line x1="303.9" y1="512.9" x2="308.5" y2="512.9" stroke="#000" stroke-width="1.2" />
<text x="301.4" y="517.2" font-size="12.3" font-family='"Liberation Serif", serif' font-weight="bold" text-anchor="end" textLength="12.6" lengthAdjust="spacingAndGlyphs" stroke="#000" stroke-width="0.3" >40</text>
<line x1="321.05" y1="660.2" x2="321.05" y2="664.6" stroke="#000" stroke-width="1.2" />
<line x1="318.85" y1="660.2" x2="323.25" y2="660.2" stroke="#000" stroke-width="1.2" />
<line x1="318.85" y1="664.6" x2="323.25" y2="664.6" stroke="#000" stroke-width="1" />
<line x1="315.9" y1="669.3" x2="315.9" y2="664.6" stroke="#000" stroke-width="1.2" stroke-dasharray="4.2 1.8"/>
<line x1="315.9" y1="664.6" x2="326.8" y2="664.6" stroke="#000" stroke-width="1.1" stroke-dasharray="2.4 1.6"/>
<line x1="333.15" y1="660" x2="333.15" y2="664.5" stroke="#000" stroke-width="1.3" />
<line x1="330.55" y1="660" x2="335.75" y2="660" stroke="#000" stroke-width="1.3" />
<rect x="326.8" y="664.5" width="12.7" height="4.8" fill="#000" stroke="#000" stroke-width="1" />
<line x1="345.65" y1="635.4" x2="345.65" y2="644.3" stroke="#000" stroke-width="1.3" />
<line x1="343.05" y1="635.4" x2="348.25" y2="635.4" stroke="#000" stroke-width="1.3" />
<rect x="340.1" y="644.9" width="11.1" height="24.4" fill="#fff" stroke="#000" stroke-width="1.3" />
<line x1="358.25" y1="618.5" x2="358.25" y2="631.4" stroke="#000" stroke-width="1.3" />
<line x1="355.65" y1="618.5" x2="360.85" y2="618.5" stroke="#000" stroke-width="1.3" />
<rect x="352.4" y="632" width="11.7" height="37.3" fill="url(#dots)" stroke="#000" stroke-width="1.3" />
<line x1="392.2" y1="654.4" x2="392.2" y2="661.2" stroke="#000" stroke-width="1.2" />
<line x1="390" y1="654.4" x2="394.4" y2="654.4" stroke="#000" stroke-width="1.2" />
<line x1="390" y1="661.2" x2="394.4" y2="661.2" stroke="#000" stroke-width="1" />
<line x1="386.9" y1="669.3" x2="386.9" y2="661.2" stroke="#000" stroke-width="1.2" stroke-dasharray="4.2 1.8"/>
<line x1="386.9" y1="661.2" x2="398.1" y2="661.2" stroke="#000" stroke-width="1.1" stroke-dasharray="2.4 1.6"/>
<line x1="404.4" y1="648.6" x2="404.4" y2="654.3" stroke="#000" stroke-width="1.3" />
<line x1="401.8" y1="648.6" x2="407" y2="648.6" stroke="#000" stroke-width="1.3" />
<rect x="398.1" y="654.3" width="12.6" height="15" fill="#000" stroke="#000" stroke-width="1" />
<line x1="416.6" y1="552.2" x2="416.6" y2="573.1" stroke="#000" stroke-width="1.3" />
<line x1="414" y1="552.2" x2="419.2" y2="552.2" stroke="#000" stroke-width="1.3" />
<rect x="411.3" y="573.7" width="10.6" height="95.6" fill="#fff" stroke="#000" stroke-width="1.3" />
<line x1="428.95" y1="519.5" x2="428.95" y2="541.6" stroke="#000" stroke-width="1.3" />
<line x1="426.35" y1="519.5" x2="431.55" y2="519.5" stroke="#000" stroke-width="1.3" />
<rect x="423.1" y="542.2" width="11.7" height="127.1" fill="url(#dots)" stroke="#000" stroke-width="1.3" />
<line x1="463.5" y1="660.6" x2="463.5" y2="665" stroke="#000" stroke-width="1.2" />
<line x1="461.3" y1="660.6" x2="465.7" y2="660.6" stroke="#000" stroke-width="1.2" />
<line x1="461.3" y1="665" x2="465.7" y2="665" stroke="#000" stroke-width="1" />
<line x1="458.1" y1="669.3" x2="458.1" y2="665" stroke="#000" stroke-width="1.2" stroke-dasharray="4.2 1.8"/>
<line x1="458.1" y1="665" x2="469.5" y2="665" stroke="#000" stroke-width="1.1" stroke-dasharray="2.4 1.6"/>
<line x1="475.65" y1="647.7" x2="475.65" y2="653.5" stroke="#000" stroke-width="1.3" />
<line x1="473.05" y1="647.7" x2="478.25" y2="647.7" stroke="#000" stroke-width="1.3" />
<rect x="469.5" y="653.5" width="12.3" height="15.8" fill="#000" stroke="#000" stroke-width="1" />
<line x1="488" y1="590.4" x2="488" y2="604.7" stroke="#000" stroke-width="1.3" />
<line x1="485.4" y1="590.4" x2="490.6" y2="590.4" stroke="#000" stroke-width="1.3" />
<rect x="482.4" y="605.3" width="11.2" height="64" fill="#fff" stroke="#000" stroke-width="1.3" />
<line x1="500.5" y1="568" x2="500.5" y2="581.8" stroke="#000" stroke-width="1.3" />
<line x1="497.9" y1="568" x2="503.1" y2="568" stroke="#000" stroke-width="1.3" />
<rect x="494.8" y="582.4" width="11.4" height="86.9" fill="url(#dots)" stroke="#000" stroke-width="1.3" />
<text x="324.5" y="683.6" font-size="12" font-family='"Liberation Serif", serif' font-weight="bold" textLength="35.9" lengthAdjust="spacingAndGlyphs" stroke="#000" stroke-width="0.3" >30 min</text>
<text x="400.7" y="683" font-size="12" font-family='"Liberation Serif", serif' font-weight="bold" textLength="16" lengthAdjust="spacingAndGlyphs" stroke="#000" stroke-width="0.3" >6 h</text>
<text x="471.8" y="683" font-size="12" font-family='"Liberation Serif", serif' font-weight="bold" textLength="21.5" lengthAdjust="spacingAndGlyphs" stroke="#000" stroke-width="0.3" >24 h</text>
<text x="261.6" y="590.5" font-size="11.5" font-family='"Liberation Serif", serif' font-weight="bold" text-anchor="middle" textLength="100.5" lengthAdjust="spacingAndGlyphs" stroke="#000" stroke-width="0.3" transform="rotate(-90 261.6 590.5)" >JNK(pT183/pY185)</text>
<text x="277.2" y="589.2" font-size="11.5" font-family='"Liberation Serif", serif' font-weight="bold" text-anchor="middle" textLength="87" lengthAdjust="spacingAndGlyphs" stroke="#000" stroke-width="0.3" transform="rotate(-90 277.2 589.2)" >positive cells (%)</text>
<rect x="318.5" y="477.3" width="10.9" height="9.6" fill="none" stroke="#000" stroke-width="1.2" stroke-dasharray="1.6 2.4"/>
<rect x="318.4" y="495.6" width="12.1" height="10.7" fill="#000" stroke="#000" stroke-width="0.8" />
<rect x="398.25" y="477.45" width="10.6" height="9.3" fill="#fff" stroke="#000" stroke-width="1.5" />
<rect x="398.25" y="496.35" width="10.6" height="10.1" fill="url(#dots2)" stroke="#000" stroke-width="1.5" />
<text x="336.7" y="486.2" font-size="11.2" font-family='"Liberation Serif", serif' font-weight="bold" textLength="51.2" lengthAdjust="spacingAndGlyphs" stroke="#000" stroke-width="0.3" >Untreated</text>
<text x="0" y="0" font-size="11.2" font-family='"Liberation Serif", serif' font-weight="bold" stroke="#000" stroke-width="0.3" transform="translate(336.7 506.3) scale(1.0410 1)">H<tspan font-size="7.17" dy="3.36">2</tspan><tspan dy="-3.36">O</tspan><tspan font-size="7.17" dy="3.36">2</tspan><tspan dy="-3.36"></tspan></text>
<text x="414.5" y="486.2" font-size="11.2" font-family='"Liberation Serif", serif' font-weight="bold" textLength="61.1" lengthAdjust="spacingAndGlyphs" stroke="#000" stroke-width="0.3" >Anti-RLIP76</text>
<text x="0" y="0" font-size="11.2" font-family='"Liberation Serif", serif' font-weight="bold" stroke="#000" stroke-width="0.3" transform="translate(414.5 506.3) scale(0.9914 1)">H<tspan font-size="7.17" dy="3.36">2</tspan><tspan dy="-3.36">O</tspan><tspan font-size="7.17" dy="3.36">2</tspan><tspan dy="-3.36"> + anti-RLIP76</tspan></text>
</svg>
</body></html>
